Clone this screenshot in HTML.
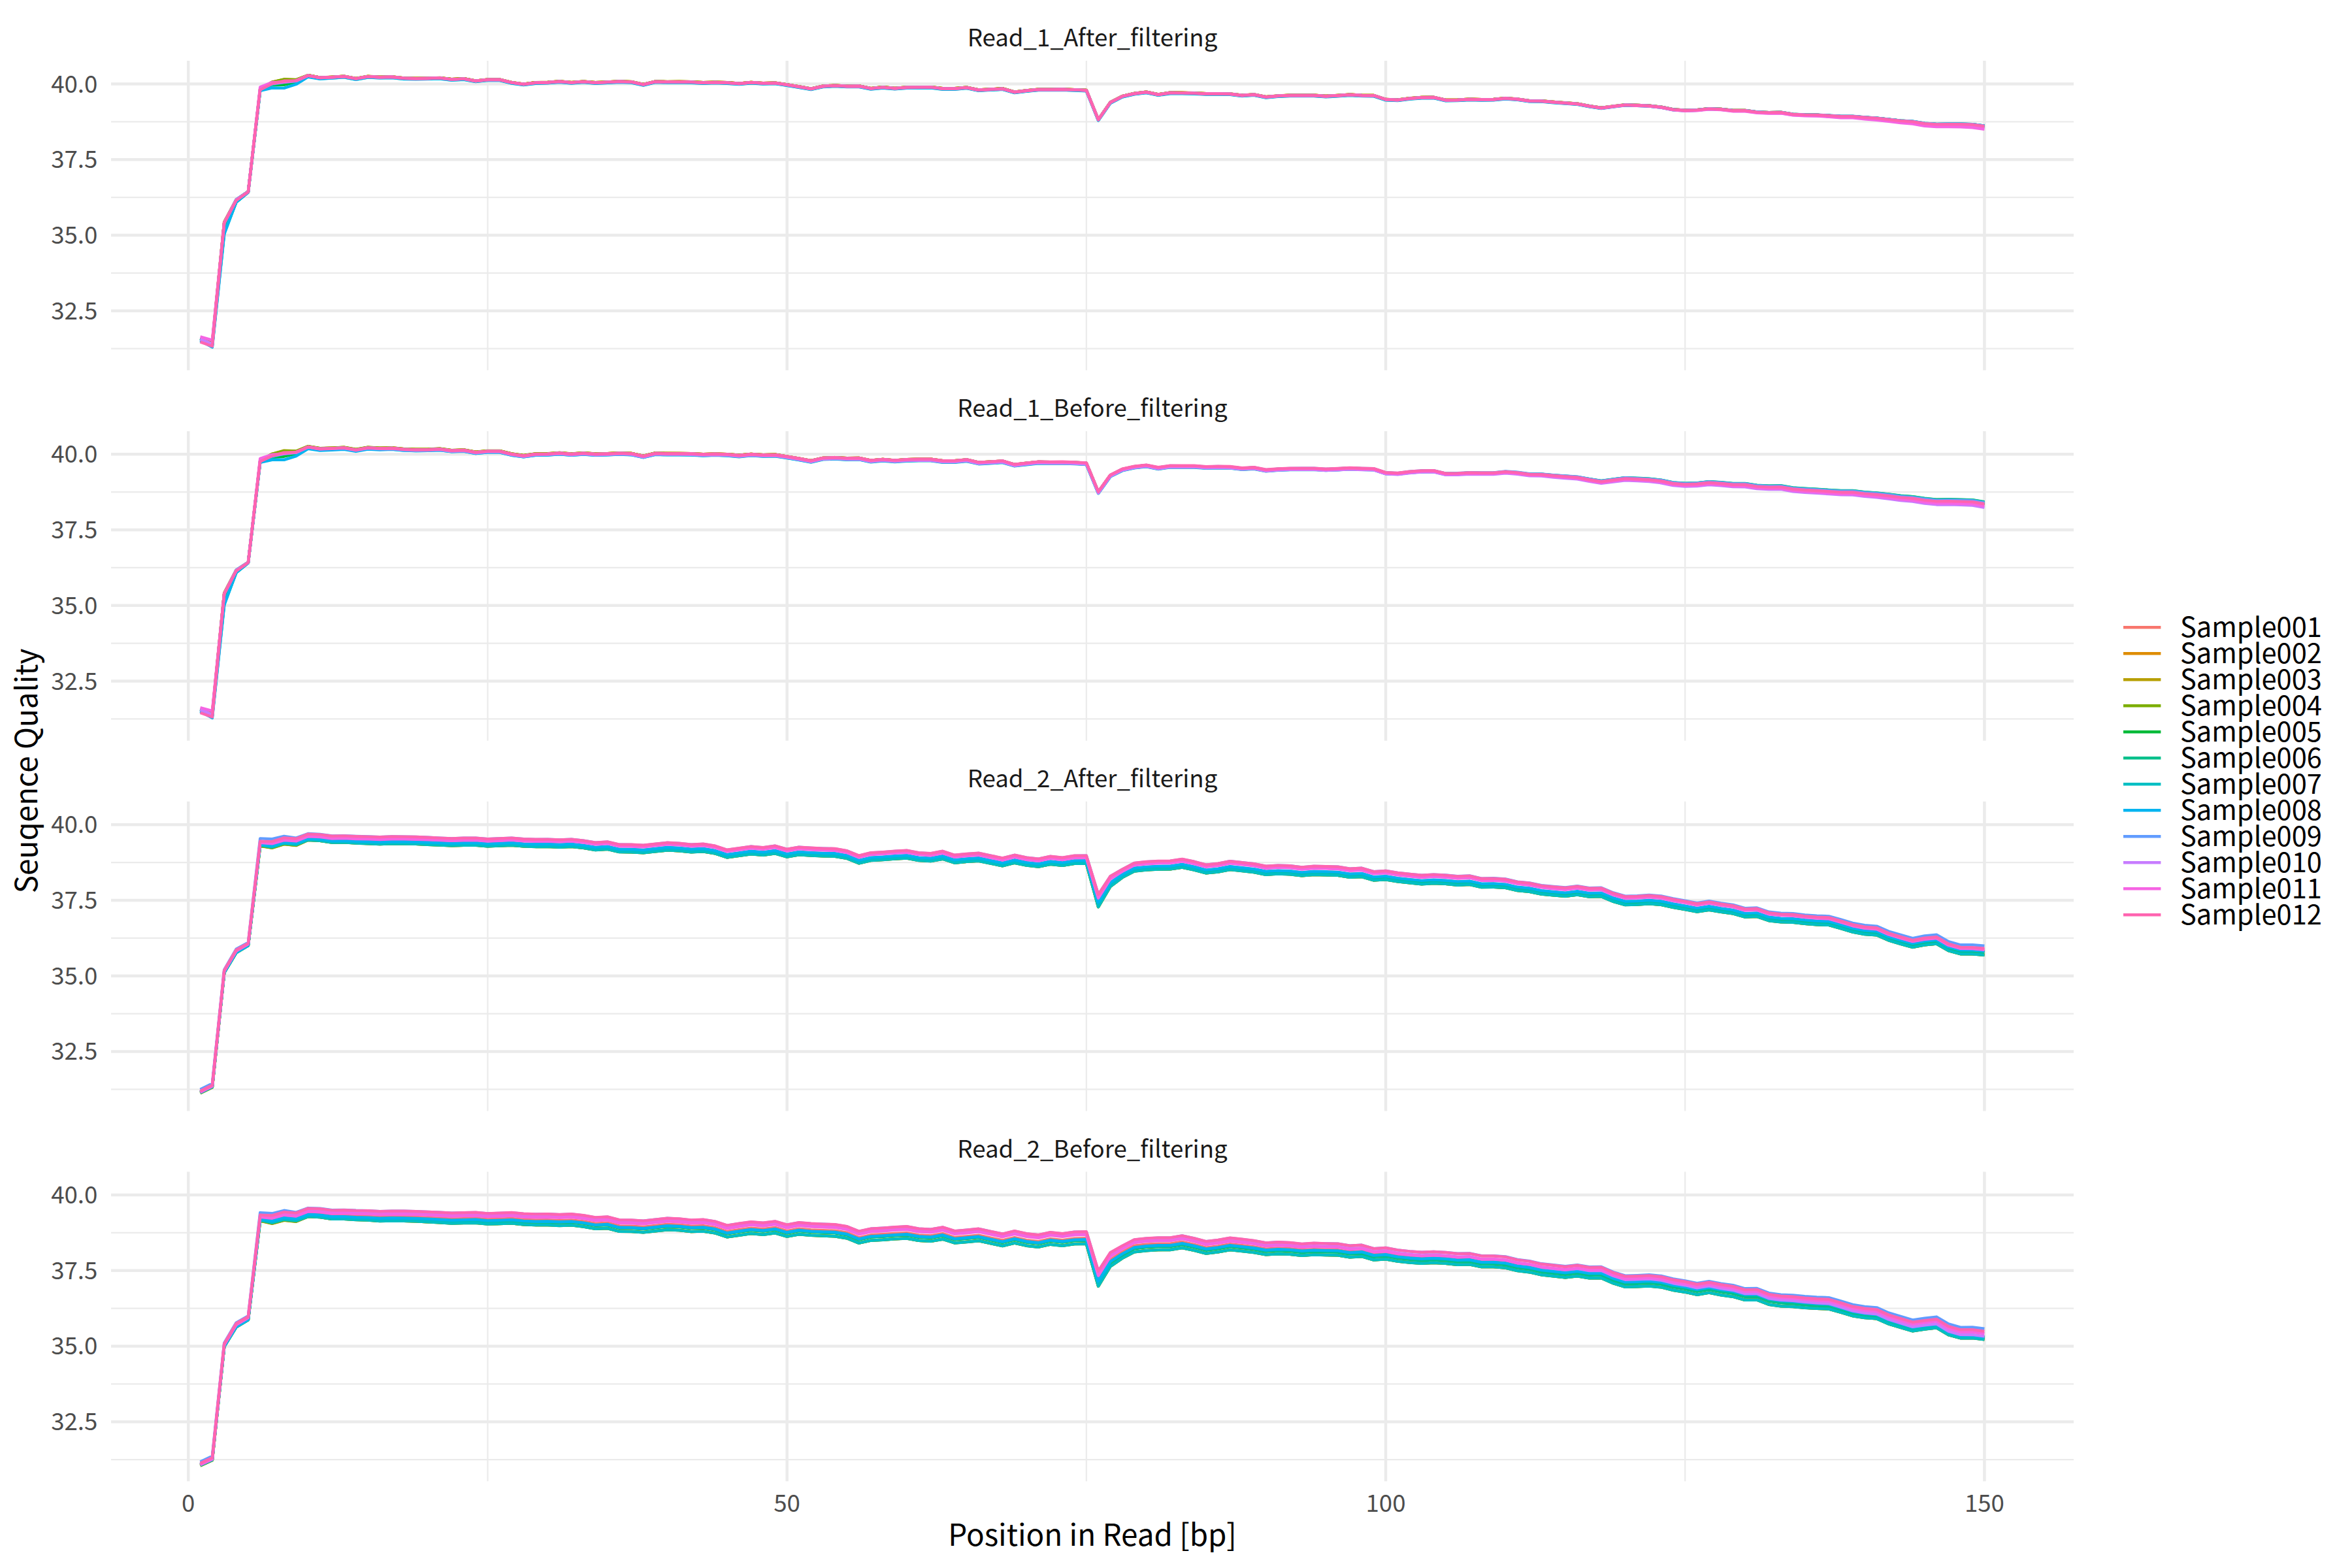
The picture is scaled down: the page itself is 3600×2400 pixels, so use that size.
<!DOCTYPE html>
<html lang="en"><head><meta charset="utf-8"><title>Sequence Quality per Position</title>
<style>html,body{margin:0;padding:0;background:#fff;overflow:hidden;width:3600px;height:2400px}svg{display:block}text{font-family:'Noto Sans CJK SC','Noto Sans CJK JP','Liberation Sans',sans-serif}.at{font-size:36.67px;fill:#4D4D4D}.st{font-size:36.67px;fill:#1A1A1A}.tt{font-size:45.83px;fill:#000}.lt{font-size:41.67px;fill:#000}.gM{stroke:#EBEBEB;stroke-width:4.45;fill:none}.gm{stroke:#EBEBEB;stroke-width:2.225;fill:none}.ln{fill:none;stroke-width:4.45;stroke-linejoin:round;stroke-linecap:butt}</style></head><body>
<svg width="3600" height="2400" viewBox="0 0 3600 2400">
<rect width="3600" height="2400" fill="#fff"/>
<g>
<path class="gm" d="M170 533.62H3174M170 417.88H3174M170 302.12H3174M170 186.38H3174M746.42 93.10V566.80M1662.82 93.10V566.80M2579.22 93.10V566.80"/>
<path class="gM" d="M170 475.75H3174M170 360.00H3174M170 244.25H3174M170 128.50H3174M288.22 93.10V566.80M1204.62 93.10V566.80M2121.02 93.10V566.80M3037.42 93.10V566.80"/>
<polyline class="ln" stroke="#F8766D" points="306.5,518.8 324.9,524.4 343.2,340.5 361.5,306.2 379.9,293.7 398.2,136 416.5,125.7 434.8,121.9 453.2,122.5 471.5,115.3 489.8,118.7 508.2,117.9 526.5,116.7 544.8,120.1 563.1,116.9 581.5,117.9 599.8,117.5 618.1,119.5 636.5,119.9 654.8,119.7 673.1,119.1 691.4,121.3 709.8,120.3 728.1,123.7 746.4,121.7 764.7,121.7 783.1,126.1 801.4,128.7 819.7,126.3 838.1,125.9 856.4,124.5 874.7,126.1 893,124.7 911.4,126.3 929.7,125.5 948,124.5 966.4,125.1 984.7,129.1 1003,124.7 1021.3,125.1 1039.7,124.9 1058,125.3 1076.3,126.3 1094.7,125.7 1113,126.3 1131.3,127.7 1149.6,125.9 1168,127.1 1186.3,126.7 1204.6,129.5 1222.9,132.5 1241.3,135.7 1259.6,131.7 1277.9,130.7 1296.3,131.7 1314.6,131.5 1332.9,135.1 1351.2,133.3 1369.6,134.9 1387.9,133.5 1406.2,133.3 1424.6,133.1 1442.9,135.3 1461.2,135.3 1479.5,133.7 1497.9,137.5 1516.2,136.5 1534.5,135.5 1552.9,140.7 1571.2,138.5 1589.5,136.7 1607.8,136.7 1626.2,136.5 1644.5,137.1 1662.8,137.9 1681.1,183 1699.5,156.6 1717.8,147.2 1736.1,143 1754.5,140.7 1772.8,144.5 1791.1,141.8 1809.4,141.9 1827.8,142.4 1846.1,143.3 1864.4,143.2 1882.8,143.6 1901.1,145.8 1919.4,144.6 1937.7,148.2 1956.1,146.6 1974.4,145.8 1992.7,145.8 2011.1,145.8 2029.4,147 2047.7,146 2066,144.8 2084.4,145.8 2102.7,146 2121,152 2139.3,152.8 2157.7,150.4 2176,149 2194.3,148.8 2212.7,153 2231,152.8 2249.3,151.8 2267.6,152.2 2286,152 2304.3,150.2 2322.6,151.6 2341,154.2 2359.3,154.4 2377.6,156 2395.9,157.4 2414.3,158.8 2432.6,162.2 2450.9,165 2469.3,162.6 2487.6,160.4 2505.9,161 2524.2,161.8 2542.6,163.8 2560.9,167.4 2579.2,168.8 2597.5,168.2 2615.9,166.2 2634.2,167 2652.5,169 2670.9,169 2689.2,171.4 2707.5,172.2 2725.8,171.9 2744.2,174.9 2762.5,175.7 2780.8,175.9 2799.2,176.9 2817.5,178.1 2835.8,178.1 2854.1,179.7 2872.5,180.9 2890.8,182.9 2909.1,184.9 2927.5,186.1 2945.8,189.1 2964.1,190.3 2982.4,190.1 3000.8,190.1 3019.1,190.8 3037.4,193.2"/>
<polyline class="ln" stroke="#DE8C00" points="306.5,519.7 324.9,523.1 343.2,340.5 361.5,306.2 379.9,293.7 398.2,137.4 416.5,128 434.8,127.5 453.2,124.8 471.5,115.3 489.8,118.7 508.2,117.9 526.5,116.7 544.8,120.1 563.1,116.9 581.5,117.9 599.8,117.5 618.1,119.5 636.5,119.9 654.8,119.7 673.1,119.1 691.4,121.3 709.8,120.3 728.1,123.7 746.4,121.7 764.7,121.7 783.1,126.1 801.4,128.7 819.7,126.3 838.1,125.9 856.4,124.5 874.7,126.1 893,124.7 911.4,126.3 929.7,125.5 948,124.5 966.4,125.1 984.7,129.1 1003,124.7 1021.3,125.1 1039.7,124.9 1058,125.3 1076.3,126.3 1094.7,125.7 1113,126.3 1131.3,127.7 1149.6,125.9 1168,127.1 1186.3,126.7 1204.6,129.5 1222.9,132.5 1241.3,135.7 1259.6,131.7 1277.9,130.7 1296.3,131.7 1314.6,131.5 1332.9,135.1 1351.2,133.3 1369.6,134.9 1387.9,133.5 1406.2,133.3 1424.6,133.1 1442.9,135.3 1461.2,135.3 1479.5,133.7 1497.9,137.5 1516.2,136.5 1534.5,135.5 1552.9,140.7 1571.2,138.5 1589.5,136.7 1607.8,136.7 1626.2,136.5 1644.5,137.1 1662.8,137.9 1681.1,183 1699.5,156.6 1717.8,147.2 1736.1,143 1754.5,140.7 1772.8,144.5 1791.1,141.8 1809.4,141.9 1827.8,142.4 1846.1,143.3 1864.4,143.2 1882.8,143.6 1901.1,145.8 1919.4,144.6 1937.7,148.2 1956.1,146.6 1974.4,145.8 1992.7,145.8 2011.1,145.8 2029.4,147 2047.7,146 2066,144.8 2084.4,145.8 2102.7,146 2121,152 2139.3,152.8 2157.7,150.4 2176,149 2194.3,148.8 2212.7,153 2231,152.8 2249.3,151.8 2267.6,152.2 2286,152 2304.3,150.2 2322.6,151.6 2341,154.2 2359.3,154.4 2377.6,156 2395.9,157.4 2414.3,158.8 2432.6,162.2 2450.9,165 2469.3,162.6 2487.6,160.4 2505.9,161 2524.2,161.8 2542.6,163.8 2560.9,167.4 2579.2,168.8 2597.5,168.2 2615.9,166.2 2634.2,167 2652.5,169 2670.9,169 2689.2,171.4 2707.5,172.2 2725.8,171.9 2744.2,174.9 2762.5,175.7 2780.8,175.9 2799.2,176.9 2817.5,178.1 2835.8,178.1 2854.1,179.7 2872.5,180.9 2890.8,182.9 2909.1,184.9 2927.5,186.1 2945.8,189.1 2964.1,190.3 2982.4,190.1 3000.8,190.1 3019.1,190.8 3037.4,193.2"/>
<polyline class="ln" stroke="#B79F00" points="306.5,517.8 324.9,525.4 343.2,340 361.5,305.8 379.9,293.2 398.2,136 416.5,125.7 434.8,121.3 453.2,122 471.5,115.2 489.8,118.6 508.2,117.8 526.5,116.6 544.8,120 563.1,116.8 581.5,117.8 599.8,117.4 618.1,119.4 636.5,119.8 654.8,119.6 673.1,119 691.4,121.2 709.8,120.2 728.1,123.6 746.4,121.6 764.7,121.6 783.1,126 801.4,128.6 819.7,126.2 838.1,125.8 856.4,124.4 874.7,126 893,124.6 911.4,126.2 929.7,125.4 948,124.4 966.4,125 984.7,129 1003,124.6 1021.3,125 1039.7,124.8 1058,125.2 1076.3,126.2 1094.7,125.6 1113,126.2 1131.3,127.6 1149.6,125.9 1168,127.1 1186.3,126.7 1204.6,129.5 1222.9,132.5 1241.3,135.6 1259.6,131.7 1277.9,130.7 1296.3,131.7 1314.6,131.5 1332.9,135.1 1351.2,133.3 1369.6,134.9 1387.9,133.5 1406.2,133.3 1424.6,133.1 1442.9,135.3 1461.2,135.3 1479.5,133.7 1497.9,137.5 1516.2,136.5 1534.5,135.5 1552.9,140.7 1571.2,138.5 1589.5,136.7 1607.8,136.7 1626.2,136.5 1644.5,137.1 1662.8,137.9 1681.1,182.9 1699.5,156.5 1717.8,147.1 1736.1,142.9 1754.5,140.6 1772.8,144.4 1791.1,141.7 1809.4,141.8 1827.8,142.3 1846.1,143.2 1864.4,143.1 1882.8,143.5 1901.1,145.7 1919.4,144.5 1937.7,148.1 1956.1,146.5 1974.4,145.7 1992.7,145.7 2011.1,145.7 2029.4,146.9 2047.7,145.9 2066,144.7 2084.4,145.7 2102.7,145.9 2121,151.9 2139.3,152.7 2157.7,150.3 2176,148.9 2194.3,148.7 2212.7,152.9 2231,152.7 2249.3,151.7 2267.6,152.1 2286,151.9 2304.3,150.1 2322.6,151.5 2341,154.1 2359.3,154.3 2377.6,155.9 2395.9,157.3 2414.3,158.7 2432.6,162.1 2450.9,164.9 2469.3,162.5 2487.6,160.3 2505.9,160.9 2524.2,161.8 2542.6,163.8 2560.9,167.4 2579.2,168.8 2597.5,168.2 2615.9,166.2 2634.2,167 2652.5,169 2670.9,169 2689.2,171.4 2707.5,172.2 2725.8,171.8 2744.2,174.8 2762.5,175.6 2780.8,175.9 2799.2,176.9 2817.5,178.1 2835.8,178.1 2854.1,179.7 2872.5,180.9 2890.8,182.9 2909.1,184.9 2927.5,186.1 2945.8,189.1 2964.1,190.3 2982.4,190.1 3000.8,190.1 3019.1,190.8 3037.4,193.2"/>
<polyline class="ln" stroke="#7CAE00" points="306.5,520.6 324.9,526.3 343.2,340 361.5,305.8 379.9,293.2 398.2,136.5 416.5,125.9 434.8,121.7 453.2,122.2 471.5,115.3 489.8,118.7 508.2,117.9 526.5,116.7 544.8,120.1 563.1,116.9 581.5,117.9 599.8,117.5 618.1,119.5 636.5,119.9 654.8,119.7 673.1,119.1 691.4,121.3 709.8,120.3 728.1,123.7 746.4,121.7 764.7,121.7 783.1,126.1 801.4,128.7 819.7,126.3 838.1,125.9 856.4,124.5 874.7,126.1 893,124.7 911.4,126.3 929.7,125.5 948,124.5 966.4,125.1 984.7,129.1 1003,124.7 1021.3,125.1 1039.7,124.9 1058,125.3 1076.3,126.3 1094.7,125.7 1113,126.3 1131.3,127.7 1149.6,125.9 1168,127.1 1186.3,126.7 1204.6,129.5 1222.9,132.5 1241.3,135.7 1259.6,131.7 1277.9,130.7 1296.3,131.7 1314.6,131.5 1332.9,135.1 1351.2,133.3 1369.6,134.9 1387.9,133.5 1406.2,133.3 1424.6,133.1 1442.9,135.3 1461.2,135.3 1479.5,133.7 1497.9,137.5 1516.2,136.5 1534.5,135.5 1552.9,140.7 1571.2,138.5 1589.5,136.7 1607.8,136.7 1626.2,136.5 1644.5,137.1 1662.8,137.9 1681.1,183 1699.5,156.6 1717.8,147.2 1736.1,143 1754.5,140.7 1772.8,144.5 1791.1,141.8 1809.4,141.9 1827.8,142.4 1846.1,143.3 1864.4,143.2 1882.8,143.6 1901.1,145.8 1919.4,144.6 1937.7,148.2 1956.1,146.6 1974.4,145.8 1992.7,145.8 2011.1,145.8 2029.4,147 2047.7,146 2066,144.8 2084.4,145.8 2102.7,146 2121,152 2139.3,152.8 2157.7,150.4 2176,149 2194.3,148.8 2212.7,153 2231,152.8 2249.3,151.8 2267.6,152.2 2286,152 2304.3,150.2 2322.6,151.6 2341,154.2 2359.3,154.4 2377.6,156 2395.9,157.4 2414.3,158.8 2432.6,162.2 2450.9,165 2469.3,162.6 2487.6,160.4 2505.9,161 2524.2,161.8 2542.6,163.8 2560.9,167.4 2579.2,168.8 2597.5,168.2 2615.9,166.2 2634.2,167 2652.5,169 2670.9,169 2689.2,171.4 2707.5,172.2 2725.8,171.9 2744.2,174.9 2762.5,175.7 2780.8,175.9 2799.2,176.9 2817.5,178.1 2835.8,178.1 2854.1,179.7 2872.5,180.9 2890.8,182.9 2909.1,184.9 2927.5,186.1 2945.8,189.1 2964.1,190.3 2982.4,190.1 3000.8,190.1 3019.1,190.8 3037.4,193.2"/>
<polyline class="ln" stroke="#00BA38" points="306.5,521.1 324.9,527.7 343.2,343.7 361.5,307.2 379.9,294.2 398.2,137.9 416.5,130.3 434.8,129.8 453.2,125.7 471.5,116 489.8,119.4 508.2,118.6 526.5,117.4 544.8,120.8 563.1,117.6 581.5,118.6 599.8,118.2 618.1,120.2 636.5,120.6 654.8,120.4 673.1,119.8 691.4,122 709.8,121 728.1,124.4 746.4,122.4 764.7,122.4 783.1,126.8 801.4,129.4 819.7,127 838.1,126.6 856.4,125.2 874.7,126.8 893,125.4 911.4,127 929.7,126.2 948,125.2 966.4,125.8 984.7,129.8 1003,125.4 1021.3,125.8 1039.7,125.6 1058,126 1076.3,127 1094.7,126.4 1113,127 1131.3,128.4 1149.6,126.6 1168,127.8 1186.3,127.4 1204.6,130.2 1222.9,133.2 1241.3,136.4 1259.6,132.4 1277.9,131.4 1296.3,132.4 1314.6,132.2 1332.9,135.8 1351.2,134 1369.6,135.6 1387.9,134.2 1406.2,134 1424.6,133.8 1442.9,136 1461.2,136 1479.5,134.4 1497.9,138.2 1516.2,137.2 1534.5,136.2 1552.9,141.4 1571.2,139.2 1589.5,137.4 1607.8,137.4 1626.2,137.2 1644.5,137.8 1662.8,138.6 1681.1,183.7 1699.5,157.3 1717.8,147.9 1736.1,143.7 1754.5,141.4 1772.8,145.2 1791.1,142.5 1809.4,142.6 1827.8,143 1846.1,143.9 1864.4,143.8 1882.8,144.2 1901.1,146.4 1919.4,145.2 1937.7,148.8 1956.1,147.2 1974.4,146.4 1992.7,146.4 2011.1,146.4 2029.4,147.6 2047.7,146.6 2066,145.4 2084.4,146.4 2102.7,146.6 2121,152.6 2139.3,153.4 2157.7,151 2176,149.6 2194.3,149.4 2212.7,153.6 2231,153.4 2249.3,152.4 2267.6,152.8 2286,152.6 2304.3,150.8 2322.6,152.2 2341,154.8 2359.3,155 2377.6,156.6 2395.9,157.9 2414.3,159.3 2432.6,162.7 2450.9,165.5 2469.3,163 2487.6,160.8 2505.9,161.4 2524.2,162.2 2542.6,164.2 2560.9,167.7 2579.2,169.1 2597.5,168.5 2615.9,166.5 2634.2,167.3 2652.5,169.2 2670.9,169.2 2689.2,171.6 2707.5,172.4 2725.8,171.9 2744.2,174.9 2762.5,175.7 2780.8,175.9 2799.2,176.9 2817.5,178 2835.8,178 2854.1,179.6 2872.5,180.8 2890.8,182.8 2909.1,184.7 2927.5,185.9 2945.8,188.9 2964.1,190.1 2982.4,189.9 3000.8,189.8 3019.1,190.4 3037.4,192.8"/>
<polyline class="ln" stroke="#00C08B" points="306.5,517.8 324.9,528.6 343.2,356.7 361.5,309.5 379.9,294.2 398.2,138.3 416.5,128.9 434.8,125.2 453.2,124.3 471.5,116.3 489.8,119.7 508.2,118.8 526.5,117.6 544.8,121 563.1,117.8 581.5,118.8 599.8,118.4 618.1,120.4 636.5,120.7 654.8,120.5 673.1,119.9 691.4,122.1 709.8,121.1 728.1,124.5 746.4,122.5 764.7,122.5 783.1,126.9 801.4,129.5 819.7,127.1 838.1,126.7 856.4,125.3 874.7,126.9 893,125.5 911.4,127.1 929.7,126.3 948,125.3 966.4,125.9 984.7,129.9 1003,125.5 1021.3,125.9 1039.7,125.7 1058,126.1 1076.3,127.1 1094.7,126.5 1113,127.1 1131.3,128.5 1149.6,126.7 1168,127.9 1186.3,127.5 1204.6,130.3 1222.9,133.3 1241.3,136.5 1259.6,132.5 1277.9,131.5 1296.3,132.5 1314.6,132.3 1332.9,135.9 1351.2,134.1 1369.6,135.7 1387.9,134.3 1406.2,134.1 1424.6,133.9 1442.9,136.1 1461.2,136.1 1479.5,134.5 1497.9,138.3 1516.2,137.3 1534.5,136.3 1552.9,141.5 1571.2,139.3 1589.5,137.5 1607.8,137.5 1626.2,137.3 1644.5,137.9 1662.8,138.7 1681.1,183.8 1699.5,157.4 1717.8,148 1736.1,143.8 1754.5,141.5 1772.8,145.3 1791.1,142.6 1809.4,142.7 1827.8,143.1 1846.1,144 1864.4,143.9 1882.8,144.3 1901.1,146.5 1919.4,145.3 1937.7,148.9 1956.1,147.3 1974.4,146.5 1992.7,146.5 2011.1,146.5 2029.4,147.7 2047.7,146.7 2066,145.5 2084.4,146.5 2102.7,146.7 2121,152.7 2139.3,153.5 2157.7,151.1 2176,149.7 2194.3,149.5 2212.7,153.7 2231,153.5 2249.3,152.5 2267.6,152.9 2286,152.7 2304.3,150.9 2322.6,152.3 2341,154.9 2359.3,155 2377.6,156.6 2395.9,158 2414.3,159.4 2432.6,162.7 2450.9,165.5 2469.3,163.1 2487.6,160.8 2505.9,161.4 2524.2,162.2 2542.6,164.2 2560.9,167.7 2579.2,169.1 2597.5,168.5 2615.9,166.4 2634.2,167.2 2652.5,169.2 2670.9,169.2 2689.2,171.5 2707.5,172.3 2725.8,171.9 2744.2,174.8 2762.5,175.6 2780.8,175.8 2799.2,176.8 2817.5,177.9 2835.8,177.9 2854.1,179.5 2872.5,180.7 2890.8,182.6 2909.1,184.6 2927.5,185.8 2945.8,188.7 2964.1,189.9 2982.4,189.7 3000.8,189.7 3019.1,190.2 3037.4,192.6"/>
<polyline class="ln" stroke="#00BFC4" points="306.5,518.8 324.9,529.1 343.2,355.8 361.5,309.5 379.9,294.2 398.2,138.8 416.5,129.4 434.8,125.7 453.2,124.8 471.5,117 489.8,120.3 508.2,119.5 526.5,118.3 544.8,121.7 563.1,118.5 581.5,119.4 599.8,119 618.1,121 636.5,121.4 654.8,121.1 673.1,120.5 691.4,122.7 709.8,121.7 728.1,125.1 746.4,123.1 764.7,123.1 783.1,127.5 801.4,130.1 819.7,127.7 838.1,127.3 856.4,125.9 874.7,127.5 893,126.1 911.4,127.7 929.7,126.9 948,125.9 966.4,126.5 984.7,130.5 1003,126.1 1021.3,126.5 1039.7,126.3 1058,126.7 1076.3,127.7 1094.7,127.1 1113,127.7 1131.3,129.1 1149.6,127.3 1168,128.5 1186.3,128.1 1204.6,130.9 1222.9,133.9 1241.3,137.1 1259.6,133.1 1277.9,132.1 1296.3,133.1 1314.6,132.9 1332.9,136.5 1351.2,134.7 1369.6,136.3 1387.9,134.9 1406.2,134.7 1424.6,134.5 1442.9,136.7 1461.2,136.7 1479.5,135.1 1497.9,138.9 1516.2,137.9 1534.5,136.9 1552.9,142.1 1571.2,139.9 1589.5,138.1 1607.8,138.1 1626.2,137.9 1644.5,138.5 1662.8,139.3 1681.1,184.4 1699.5,158 1717.8,148.6 1736.1,144.4 1754.5,142.1 1772.8,145.9 1791.1,143.2 1809.4,143.3 1827.8,143.7 1846.1,144.6 1864.4,144.5 1882.8,144.9 1901.1,147.1 1919.4,145.9 1937.7,149.5 1956.1,147.9 1974.4,147.1 1992.7,147.1 2011.1,147.1 2029.4,148.3 2047.7,147.3 2066,146.1 2084.4,147.1 2102.7,147.3 2121,153.3 2139.3,154.1 2157.7,151.7 2176,150.3 2194.3,150.1 2212.7,154.3 2231,154.1 2249.3,153.1 2267.6,153.5 2286,153.3 2304.3,151.5 2322.6,152.9 2341,155.4 2359.3,155.6 2377.6,157.2 2395.9,158.5 2414.3,159.9 2432.6,163.2 2450.9,166 2469.3,163.6 2487.6,161.3 2505.9,161.9 2524.2,162.6 2542.6,164.6 2560.9,168.2 2579.2,169.5 2597.5,168.9 2615.9,166.8 2634.2,167.6 2652.5,169.5 2670.9,169.5 2689.2,171.9 2707.5,172.6 2725.8,172.2 2744.2,175.1 2762.5,175.9 2780.8,176.1 2799.2,177 2817.5,178.2 2835.8,178.2 2854.1,179.7 2872.5,180.9 2890.8,182.8 2909.1,184.8 2927.5,185.9 2945.8,188.9 2964.1,190.1 2982.4,189.8 3000.8,189.8 3019.1,190.3 3037.4,192.7"/>
<polyline class="ln" stroke="#00B4F0" points="306.5,521.5 324.9,531.4 343.2,358.5 361.5,309.2 379.9,294.2 398.2,138.8 416.5,134.5 434.8,134.9 453.2,129 471.5,117.7 489.8,120.8 508.2,119.6 526.5,118.1 544.8,121.5 563.1,118.3 581.5,119.2 599.8,118.8 618.1,120.8 636.5,121.1 654.8,120.9 673.1,120.3 691.4,122.5 709.8,121.5 728.1,124.9 746.4,122.9 764.7,122.9 783.1,127.3 801.4,129.9 819.7,127.5 838.1,127.1 856.4,125.7 874.7,127.3 893,125.9 911.4,127.5 929.7,126.7 948,125.7 966.4,126.3 984.7,130.3 1003,125.9 1021.3,126.3 1039.7,126.1 1058,126.5 1076.3,127.5 1094.7,126.9 1113,127.5 1131.3,128.9 1149.6,127.1 1168,128.3 1186.3,127.9 1204.6,130.7 1222.9,133.7 1241.3,136.9 1259.6,132.9 1277.9,131.9 1296.3,132.9 1314.6,132.7 1332.9,136.3 1351.2,134.5 1369.6,136.1 1387.9,134.7 1406.2,134.5 1424.6,134.3 1442.9,136.5 1461.2,136.5 1479.5,134.9 1497.9,138.6 1516.2,137.6 1534.5,136.6 1552.9,141.8 1571.2,139.6 1589.5,137.8 1607.8,137.8 1626.2,137.6 1644.5,138.2 1662.8,139 1681.1,184.1 1699.5,157.7 1717.8,148.3 1736.1,144.1 1754.5,141.8 1772.8,145.6 1791.1,142.9 1809.4,143 1827.8,143.4 1846.1,144.3 1864.4,144.2 1882.8,144.6 1901.1,146.8 1919.4,145.6 1937.7,149.2 1956.1,147.6 1974.4,146.8 1992.7,146.8 2011.1,146.8 2029.4,148 2047.7,147 2066,145.8 2084.4,146.8 2102.7,147 2121,153 2139.3,153.8 2157.7,151.4 2176,150 2194.3,149.8 2212.7,154 2231,153.8 2249.3,152.8 2267.6,153.2 2286,153 2304.3,151.2 2322.6,152.6 2341,155.2 2359.3,155.3 2377.6,156.9 2395.9,158.3 2414.3,159.6 2432.6,163 2450.9,165.8 2469.3,163.4 2487.6,161.1 2505.9,161.7 2524.2,162.5 2542.6,164.5 2560.9,168 2579.2,169.4 2597.5,168.8 2615.9,166.7 2634.2,167.5 2652.5,169.5 2670.9,169.5 2689.2,171.8 2707.5,172.6 2725.8,172.2 2744.2,175.2 2762.5,175.9 2780.8,176.1 2799.2,177.1 2817.5,178.3 2835.8,178.2 2854.1,179.8 2872.5,181 2890.8,182.9 2909.1,184.9 2927.5,186.1 2945.8,189.1 2964.1,190.2 2982.4,190 3000.8,190 3019.1,190.6 3037.4,192.9"/>
<polyline class="ln" stroke="#619CFF" points="306.5,519.7 324.9,527.2 343.2,341.4 361.5,305.3 379.9,293.2 398.2,136.5 416.5,128 434.8,124.7 453.2,123.9 471.5,115.6 489.8,119 508.2,118.2 526.5,117 544.8,120.4 563.1,117.2 581.5,118.2 599.8,117.8 618.1,119.8 636.5,120.2 654.8,120 673.1,119.4 691.4,121.6 709.8,120.6 728.1,124 746.4,122 764.7,122 783.1,126.4 801.4,129 819.7,126.6 838.1,126.2 856.4,124.8 874.7,126.4 893,125 911.4,126.6 929.7,125.8 948,124.8 966.4,125.4 984.7,129.4 1003,125 1021.3,125.4 1039.7,125.2 1058,125.6 1076.3,126.6 1094.7,126 1113,126.6 1131.3,128 1149.6,126.2 1168,127.4 1186.3,127 1204.6,129.8 1222.9,132.8 1241.3,136 1259.6,132 1277.9,131 1296.3,132 1314.6,131.8 1332.9,135.4 1351.2,133.6 1369.6,135.2 1387.9,133.8 1406.2,133.6 1424.6,133.4 1442.9,135.6 1461.2,135.6 1479.5,134 1497.9,137.8 1516.2,136.8 1534.5,135.8 1552.9,141 1571.2,138.8 1589.5,137 1607.8,137 1626.2,136.8 1644.5,137.4 1662.8,138.2 1681.1,183.2 1699.5,156.8 1717.8,147.4 1736.1,143.2 1754.5,140.9 1772.8,144.7 1791.1,142 1809.4,142.1 1827.8,142.6 1846.1,143.5 1864.4,143.4 1882.8,143.8 1901.1,146 1919.4,144.8 1937.7,148.4 1956.1,146.8 1974.4,146 1992.7,146 2011.1,146 2029.4,147.2 2047.7,146.2 2066,145 2084.4,146 2102.7,146.2 2121,152.2 2139.3,153 2157.7,150.6 2176,149.2 2194.3,149 2212.7,153.2 2231,153 2249.3,152 2267.6,152.4 2286,152.2 2304.3,150.4 2322.6,151.8 2341,154.3 2359.3,154.5 2377.6,156.1 2395.9,157.5 2414.3,158.9 2432.6,162.3 2450.9,165.1 2469.3,162.7 2487.6,160.5 2505.9,161 2524.2,161.8 2542.6,163.8 2560.9,167.4 2579.2,168.8 2597.5,168.2 2615.9,166.2 2634.2,167 2652.5,168.9 2670.9,168.9 2689.2,171.3 2707.5,172.1 2725.8,171.7 2744.2,174.7 2762.5,175.5 2780.8,175.7 2799.2,176.7 2817.5,177.8 2835.8,177.8 2854.1,179.4 2872.5,180.6 2890.8,182.6 2909.1,184.6 2927.5,185.8 2945.8,188.8 2964.1,189.9 2982.4,189.7 3000.8,189.7 3019.1,190.3 3037.4,192.7"/>
<polyline class="ln" stroke="#C77CFF" points="306.5,519.2 324.9,526.3 343.2,341.4 361.5,306.7 379.9,293.7 398.2,135.5 416.5,128 434.8,125.7 453.2,123.9 471.5,115.6 489.8,119 508.2,118.2 526.5,117 544.8,120.4 563.1,117.2 581.5,118.2 599.8,117.8 618.1,119.8 636.5,120.2 654.8,120 673.1,119.4 691.4,121.6 709.8,120.6 728.1,124 746.4,122 764.7,122 783.1,126.4 801.4,129 819.7,126.6 838.1,126.2 856.4,124.8 874.7,126.4 893,125 911.4,126.6 929.7,125.8 948,124.8 966.4,125.4 984.7,129.4 1003,125 1021.3,125.4 1039.7,125.2 1058,125.6 1076.3,126.6 1094.7,126 1113,126.6 1131.3,128 1149.6,126.2 1168,127.4 1186.3,127 1204.6,129.8 1222.9,132.8 1241.3,136 1259.6,132 1277.9,131 1296.3,132 1314.6,131.8 1332.9,135.4 1351.2,133.6 1369.6,135.2 1387.9,133.8 1406.2,133.6 1424.6,133.4 1442.9,135.6 1461.2,135.6 1479.5,134 1497.9,137.8 1516.2,136.8 1534.5,135.8 1552.9,141 1571.2,138.8 1589.5,137 1607.8,137 1626.2,136.8 1644.5,137.4 1662.8,138.2 1681.1,183.2 1699.5,156.8 1717.8,147.4 1736.1,143.2 1754.5,140.9 1772.8,144.7 1791.1,142 1809.4,142.1 1827.8,142.6 1846.1,143.5 1864.4,143.4 1882.8,143.8 1901.1,146 1919.4,144.8 1937.7,148.4 1956.1,146.8 1974.4,146 1992.7,146 2011.1,146 2029.4,147.2 2047.7,146.2 2066,145 2084.4,146 2102.7,146.2 2121,152.2 2139.3,153 2157.7,150.6 2176,149.2 2194.3,149 2212.7,153.2 2231,153 2249.3,152 2267.6,152.4 2286,152.2 2304.3,150.4 2322.6,151.8 2341,154.4 2359.3,154.6 2377.6,156.2 2395.9,157.6 2414.3,159 2432.6,162.4 2450.9,165.2 2469.3,162.8 2487.6,160.6 2505.9,161.2 2524.2,162.1 2542.6,164.2 2560.9,167.9 2579.2,169.3 2597.5,168.8 2615.9,166.9 2634.2,167.8 2652.5,169.9 2670.9,169.9 2689.2,172.4 2707.5,173.3 2725.8,173 2744.2,176 2762.5,176.9 2780.8,177.2 2799.2,178.3 2817.5,179.6 2835.8,179.6 2854.1,181.3 2872.5,182.6 2890.8,184.7 2909.1,186.7 2927.5,188 2945.8,191.1 2964.1,192.4 2982.4,192.2 3000.8,192.3 3019.1,193 3037.4,195.5"/>
<polyline class="ln" stroke="#F564E3" points="306.5,515.5 324.9,520.7 343.2,340.5 361.5,306.2 379.9,293.7 398.2,133.2 416.5,126.1 434.8,125.2 453.2,123.4 471.5,115.6 489.8,119 508.2,118.2 526.5,117 544.8,120.4 563.1,117.2 581.5,118.2 599.8,117.8 618.1,119.8 636.5,120.2 654.8,120 673.1,119.4 691.4,121.6 709.8,120.6 728.1,124 746.4,122 764.7,122 783.1,126.4 801.4,129 819.7,126.7 838.1,126.3 856.4,124.9 874.7,126.5 893,125.1 911.4,126.7 929.7,125.9 948,124.9 966.4,125.5 984.7,129.5 1003,125.1 1021.3,125.5 1039.7,125.3 1058,125.7 1076.3,126.7 1094.7,126.1 1113,126.7 1131.3,128.1 1149.6,126.3 1168,127.5 1186.3,127.1 1204.6,129.9 1222.9,132.9 1241.3,136.1 1259.6,132.2 1277.9,131.2 1296.3,132.2 1314.6,132 1332.9,135.6 1351.2,133.8 1369.6,135.4 1387.9,134 1406.2,133.8 1424.6,133.6 1442.9,135.8 1461.2,135.8 1479.5,134.2 1497.9,138 1516.2,137 1534.5,136 1552.9,141.2 1571.2,139 1589.5,137.2 1607.8,137.2 1626.2,137 1644.5,137.6 1662.8,138.4 1681.1,183.5 1699.5,157.1 1717.8,147.7 1736.1,143.5 1754.5,141.2 1772.8,145 1791.1,142.3 1809.4,142.4 1827.8,142.9 1846.1,143.8 1864.4,143.7 1882.8,144.1 1901.1,146.3 1919.4,145.1 1937.7,148.7 1956.1,147.1 1974.4,146.3 1992.7,146.3 2011.1,146.3 2029.4,147.5 2047.7,146.5 2066,145.3 2084.4,146.3 2102.7,146.5 2121,152.5 2139.3,153.3 2157.7,151 2176,149.6 2194.3,149.4 2212.7,153.6 2231,153.4 2249.3,152.4 2267.6,152.8 2286,152.6 2304.3,150.8 2322.6,152.2 2341,154.8 2359.3,155 2377.6,156.6 2395.9,158 2414.3,159.4 2432.6,162.8 2450.9,165.6 2469.3,163.2 2487.6,161 2505.9,161.7 2524.2,162.6 2542.6,164.6 2560.9,168.3 2579.2,169.7 2597.5,169.2 2615.9,167.3 2634.2,168.1 2652.5,170.2 2670.9,170.2 2689.2,172.7 2707.5,173.6 2725.8,173.2 2744.2,176.3 2762.5,177.2 2780.8,177.6 2799.2,178.8 2817.5,180.2 2835.8,180.4 2854.1,182.2 2872.5,183.7 2890.8,185.9 2909.1,188.1 2927.5,189.5 2945.8,192.7 2964.1,194.1 2982.4,194.1 3000.8,194.4 3019.1,195.2 3037.4,197.8"/>
<polyline class="ln" stroke="#FF64B0" points="306.5,523.4 324.9,530 343.2,341.4 361.5,306.7 379.9,293.7 398.2,137.4 416.5,128 434.8,123.8 453.2,123.4 471.5,115.6 489.8,119 508.2,118.2 526.5,117 544.8,120.4 563.1,117.2 581.5,118.2 599.8,117.8 618.1,119.8 636.5,120.2 654.8,120 673.1,119.4 691.4,121.6 709.8,120.6 728.1,124 746.4,122 764.7,122 783.1,126.4 801.4,129 819.7,126.6 838.1,126.2 856.4,124.8 874.7,126.4 893,125 911.4,126.6 929.7,125.8 948,124.8 966.4,125.4 984.7,129.4 1003,125 1021.3,125.4 1039.7,125.2 1058,125.6 1076.3,126.6 1094.7,126 1113,126.6 1131.3,128 1149.6,126.2 1168,127.4 1186.3,127 1204.6,129.8 1222.9,132.8 1241.3,136 1259.6,132 1277.9,131 1296.3,132 1314.6,131.8 1332.9,135.4 1351.2,133.6 1369.6,135.2 1387.9,133.8 1406.2,133.6 1424.6,133.4 1442.9,135.6 1461.2,135.6 1479.5,134 1497.9,137.8 1516.2,136.8 1534.5,135.8 1552.9,141 1571.2,138.8 1589.5,137 1607.8,137 1626.2,136.8 1644.5,137.4 1662.8,138.2 1681.1,183.2 1699.5,156.8 1717.8,147.4 1736.1,143.2 1754.5,140.9 1772.8,144.7 1791.1,142 1809.4,142.1 1827.8,142.6 1846.1,143.5 1864.4,143.4 1882.8,143.8 1901.1,146 1919.4,144.8 1937.7,148.4 1956.1,146.8 1974.4,146 1992.7,146 2011.1,146 2029.4,147.2 2047.7,146.2 2066,145 2084.4,146 2102.7,146.2 2121,152.2 2139.3,153 2157.7,150.6 2176,149.2 2194.3,149 2212.7,153.2 2231,153 2249.3,152 2267.6,152.4 2286,152.2 2304.3,150.4 2322.6,151.8 2341,154.4 2359.3,154.6 2377.6,156.2 2395.9,157.6 2414.3,159 2432.6,162.4 2450.9,165.2 2469.3,162.8 2487.6,160.6 2505.9,161.2 2524.2,162 2542.6,164 2560.9,167.6 2579.2,169 2597.5,168.4 2615.9,166.4 2634.2,167.2 2652.5,169.2 2670.9,169.2 2689.2,171.6 2707.5,172.4 2725.8,172 2744.2,175 2762.5,175.8 2780.8,176 2799.2,177 2817.5,178.2 2835.8,178.2 2854.1,179.8 2872.5,181 2890.8,183 2909.1,185 2927.5,186.2 2945.8,189.2 2964.1,190.4 2982.4,190.2 3000.8,190.2 3019.1,190.8 3037.4,193.2"/>
<text class="st" text-anchor="middle" x="1672" y="71.20">Read_1_After_filtering</text>
<text class="at" text-anchor="end" x="149.4" y="488.75">32.5</text>
<text class="at" text-anchor="end" x="149.4" y="373.00">35.0</text>
<text class="at" text-anchor="end" x="149.4" y="257.25">37.5</text>
<text class="at" text-anchor="end" x="149.4" y="141.50">40.0</text>
</g>
<g>
<path class="gm" d="M170 1100.45H3174M170 984.71H3174M170 868.96H3174M170 753.21H3174M746.42 659.93V1133.63M1662.82 659.93V1133.63M2579.22 659.93V1133.63"/>
<path class="gM" d="M170 1042.58H3174M170 926.83H3174M170 811.08H3174M170 695.33H3174M288.22 659.93V1133.63M1204.62 659.93V1133.63M2121.02 659.93V1133.63M3037.42 659.93V1133.63"/>
<polyline class="ln" stroke="#F8766D" points="306.5,1086.4 324.9,1091.9 343.2,908.3 361.5,873.3 379.9,861 398.2,705 416.5,695.5 434.8,690.8 453.2,691.2 471.5,683.4 489.8,686.4 508.2,685.8 526.5,684.9 544.8,688.1 563.1,684.9 581.5,685.9 599.8,685.5 618.1,687.3 636.5,687.9 654.8,687.7 673.1,686.9 691.4,689.4 709.8,688.6 728.1,692 746.4,690.2 764.7,690.2 783.1,694.6 801.4,697.2 819.7,694.6 838.1,694.4 856.4,693.1 874.7,694.7 893,693.3 911.4,694.7 929.7,694.2 948,693.3 966.4,693.9 984.7,697.9 1003,693.5 1021.3,694 1039.7,694 1058,694.2 1076.3,695.2 1094.7,694.6 1113,695.2 1131.3,696.8 1149.6,695 1168,696.2 1186.3,695.8 1204.6,698.7 1222.9,701.7 1241.3,705.1 1259.6,700.9 1277.9,700.1 1296.3,701.3 1314.6,700.9 1332.9,704.7 1351.2,702.9 1369.6,704.6 1387.9,703.3 1406.2,702.8 1424.6,702.8 1442.9,705.3 1461.2,705.3 1479.5,703.6 1497.9,707.8 1516.2,706.8 1534.5,705.7 1552.9,711.1 1571.2,708.9 1589.5,707 1607.8,707.4 1626.2,707.2 1644.5,707.9 1662.8,708.9 1681.1,753.1 1699.5,727.5 1717.8,718.4 1736.1,714.4 1754.5,712.3 1772.8,716.1 1791.1,713.4 1809.4,713.6 1827.8,713.7 1846.1,715 1864.4,714.5 1882.8,714.9 1901.1,717.1 1919.4,716 1937.7,719.6 1956.1,718.2 1974.4,717.4 1992.7,717.4 2011.1,717.4 2029.4,718.6 2047.7,717.7 2066,716.7 2084.4,717.5 2102.7,717.9 2121,723.9 2139.3,724.7 2157.7,722.4 2176,721 2194.3,720.8 2212.7,725.2 2231,725 2249.3,724 2267.6,724.4 2286,724.3 2304.3,722.5 2322.6,723.9 2341,726.5 2359.3,726.7 2377.6,728.5 2395.9,729.9 2414.3,731.2 2432.6,734.6 2450.9,737.6 2469.3,735.2 2487.6,732.8 2505.9,733.6 2524.2,734.6 2542.6,736.5 2560.9,740.3 2579.2,741.7 2597.5,741.1 2615.9,739.1 2634.2,740.3 2652.5,742.1 2670.9,742 2689.2,744.8 2707.5,745.8 2725.8,745.6 2744.2,748.8 2762.5,750.2 2780.8,751.2 2799.2,752.3 2817.5,753.5 2835.8,753.5 2854.1,755.7 2872.5,757.1 2890.8,759.1 2909.1,761.5 2927.5,762.8 2945.8,765.6 2964.1,767.4 2982.4,767.2 3000.8,767.6 3019.1,768.2 3037.4,771.3"/>
<polyline class="ln" stroke="#DE8C00" points="306.5,1087.3 324.9,1090.6 343.2,908.3 361.5,873.3 379.9,861 398.2,706.4 416.5,698.7 434.8,696.4 453.2,693.5 471.5,683.4 489.8,686.4 508.2,685.8 526.5,684.9 544.8,688.1 563.1,684.9 581.5,685.9 599.8,685.5 618.1,687.3 636.5,687.9 654.8,687.7 673.1,686.9 691.4,689.4 709.8,688.6 728.1,692 746.4,690.2 764.7,690.2 783.1,694.6 801.4,697.2 819.7,694.6 838.1,694.4 856.4,693.1 874.7,694.7 893,693.3 911.4,694.7 929.7,694.2 948,693.3 966.4,693.9 984.7,697.9 1003,693.5 1021.3,694 1039.7,694 1058,694.2 1076.3,695.2 1094.7,694.6 1113,695.2 1131.3,696.8 1149.6,695 1168,696.2 1186.3,695.8 1204.6,698.7 1222.9,701.7 1241.3,705.1 1259.6,700.9 1277.9,700.1 1296.3,701.3 1314.6,700.9 1332.9,704.7 1351.2,702.9 1369.6,704.6 1387.9,703.3 1406.2,702.8 1424.6,702.8 1442.9,705.3 1461.2,705.3 1479.5,703.6 1497.9,707.8 1516.2,706.8 1534.5,705.7 1552.9,711.1 1571.2,708.9 1589.5,707 1607.8,707.4 1626.2,707.2 1644.5,707.9 1662.8,708.9 1681.1,753.1 1699.5,727.5 1717.8,718.4 1736.1,714.4 1754.5,712.3 1772.8,716.1 1791.1,713.4 1809.4,713.6 1827.8,713.7 1846.1,715 1864.4,714.5 1882.8,714.9 1901.1,717.1 1919.4,716.1 1937.7,719.7 1956.1,718.3 1974.4,717.5 1992.7,717.5 2011.1,717.5 2029.4,718.7 2047.7,717.9 2066,716.9 2084.4,717.7 2102.7,718.1 2121,724.1 2139.3,724.9 2157.7,722.7 2176,721.3 2194.3,721.1 2212.7,725.5 2231,725.3 2249.3,724.3 2267.6,724.7 2286,724.7 2304.3,722.9 2322.6,724.3 2341,726.9 2359.3,727.1 2377.6,728.9 2395.9,730.3 2414.3,731.7 2432.6,735.1 2450.9,738.1 2469.3,735.7 2487.6,733.3 2505.9,734.1 2524.2,735.1 2542.6,737.1 2560.9,740.9 2579.2,742.3 2597.5,741.7 2615.9,739.7 2634.2,740.9 2652.5,742.7 2670.9,742.7 2689.2,745.5 2707.5,746.5 2725.8,746.3 2744.2,749.5 2762.5,750.9 2780.8,751.9 2799.2,753.1 2817.5,754.3 2835.8,754.3 2854.1,756.5 2872.5,757.9 2890.8,759.9 2909.1,762.3 2927.5,763.7 2945.8,766.5 2964.1,768.3 2982.4,768.1 3000.8,768.5 3019.1,769.1 3037.4,772.3"/>
<polyline class="ln" stroke="#B79F00" points="306.5,1085.4 324.9,1092.9 343.2,907.8 361.5,872.9 379.9,860.5 398.2,705 416.5,694.8 434.8,689.7 453.2,690.5 471.5,683.1 489.8,686.2 508.2,685.6 526.5,684.6 544.8,687.8 563.1,684.6 581.5,685.6 599.8,685.3 618.1,687.1 636.5,687.7 654.8,687.5 673.1,686.7 691.4,689.1 709.8,688.4 728.1,691.8 746.4,690 764.7,690 783.1,694.4 801.4,697 819.7,694.5 838.1,694.3 856.4,692.9 874.7,694.5 893,693.1 911.4,694.5 929.7,694.1 948,693.2 966.4,693.8 984.7,697.8 1003,693.4 1021.3,693.8 1039.7,693.9 1058,694.1 1076.3,695.1 1094.7,694.5 1113,695.1 1131.3,696.7 1149.6,695 1168,696.2 1186.3,695.8 1204.6,698.6 1222.9,701.6 1241.3,705 1259.6,700.9 1277.9,700.1 1296.3,701.3 1314.6,700.9 1332.9,704.7 1351.2,702.9 1369.6,704.5 1387.9,703.3 1406.2,702.8 1424.6,702.8 1442.9,705.3 1461.2,705.3 1479.5,703.5 1497.9,707.7 1516.2,706.8 1534.5,705.6 1552.9,711 1571.2,708.8 1589.5,706.9 1607.8,707.3 1626.2,707.1 1644.5,707.8 1662.8,708.8 1681.1,752.9 1699.5,727.4 1717.8,718.2 1736.1,714.2 1754.5,712.2 1772.8,715.9 1791.1,713.2 1809.4,713.3 1827.8,713.4 1846.1,714.8 1864.4,714.3 1882.8,714.6 1901.1,716.8 1919.4,715.8 1937.7,719.4 1956.1,718 1974.4,717.2 1992.7,717.2 2011.1,717.2 2029.4,718.4 2047.7,717.5 2066,716.5 2084.4,717.3 2102.7,717.7 2121,723.7 2139.3,724.5 2157.7,722.3 2176,720.9 2194.3,720.7 2212.7,725 2231,724.8 2249.3,723.8 2267.6,724.2 2286,724.2 2304.3,722.4 2322.6,723.8 2341,726.4 2359.3,726.6 2377.6,728.4 2395.9,729.7 2414.3,731.1 2432.6,734.5 2450.9,737.5 2469.3,735.1 2487.6,732.7 2505.9,733.5 2524.2,734.5 2542.6,736.4 2560.9,740.2 2579.2,741.6 2597.5,741 2615.9,739 2634.2,740.2 2652.5,742 2670.9,742 2689.2,744.8 2707.5,745.7 2725.8,745.5 2744.2,748.7 2762.5,750.1 2780.8,751.1 2799.2,752.3 2817.5,753.5 2835.8,753.5 2854.1,755.7 2872.5,757.1 2890.8,759 2909.1,761.4 2927.5,762.8 2945.8,765.6 2964.1,767.4 2982.4,767.2 3000.8,767.6 3019.1,768.2 3037.4,771.3"/>
<polyline class="ln" stroke="#7CAE00" points="306.5,1088.2 324.9,1093.8 343.2,907.8 361.5,872.9 379.9,860.5 398.2,705.5 416.5,695 434.8,690.4 453.2,690.7 471.5,683.3 489.8,686.3 508.2,685.7 526.5,684.7 544.8,687.9 563.1,684.8 581.5,685.8 599.8,685.4 618.1,687.2 636.5,687.8 654.8,687.6 673.1,686.8 691.4,689.2 709.8,688.5 728.1,691.9 746.4,690.1 764.7,690.1 783.1,694.5 801.4,697.1 819.7,694.5 838.1,694.4 856.4,693 874.7,694.6 893,693.2 911.4,694.6 929.7,694.1 948,693.2 966.4,693.9 984.7,697.9 1003,693.5 1021.3,693.9 1039.7,693.9 1058,694.1 1076.3,695.1 1094.7,694.6 1113,695.2 1131.3,696.8 1149.6,695 1168,696.2 1186.3,695.8 1204.6,698.6 1222.9,701.6 1241.3,705.1 1259.6,700.9 1277.9,700.1 1296.3,701.3 1314.6,700.9 1332.9,704.7 1351.2,702.9 1369.6,704.6 1387.9,703.3 1406.2,702.8 1424.6,702.8 1442.9,705.3 1461.2,705.3 1479.5,703.5 1497.9,707.7 1516.2,706.8 1534.5,705.6 1552.9,711 1571.2,708.8 1589.5,706.9 1607.8,707.3 1626.2,707.1 1644.5,707.8 1662.8,708.8 1681.1,752.9 1699.5,727.4 1717.8,718.2 1736.1,714.2 1754.5,712.2 1772.8,715.9 1791.1,713.2 1809.4,713.3 1827.8,713.4 1846.1,714.8 1864.4,714.3 1882.8,714.6 1901.1,716.8 1919.4,715.8 1937.7,719.4 1956.1,718 1974.4,717.2 1992.7,717.2 2011.1,717.2 2029.4,718.4 2047.7,717.5 2066,716.5 2084.4,717.3 2102.7,717.7 2121,723.7 2139.3,724.5 2157.7,722.3 2176,720.9 2194.3,720.7 2212.7,725 2231,724.8 2249.3,723.8 2267.6,724.2 2286,724.2 2304.3,722.4 2322.6,723.8 2341,726.4 2359.3,726.6 2377.6,728.4 2395.9,729.7 2414.3,731.1 2432.6,734.5 2450.9,737.5 2469.3,735.1 2487.6,732.7 2505.9,733.5 2524.2,734.5 2542.6,736.4 2560.9,740.2 2579.2,741.6 2597.5,741 2615.9,739 2634.2,740.2 2652.5,742 2670.9,742 2689.2,744.8 2707.5,745.7 2725.8,745.5 2744.2,748.7 2762.5,750.1 2780.8,751.1 2799.2,752.3 2817.5,753.5 2835.8,753.5 2854.1,755.7 2872.5,757.1 2890.8,759 2909.1,761.4 2927.5,762.8 2945.8,765.6 2964.1,767.4 2982.4,767.2 3000.8,767.6 3019.1,768.2 3037.4,771.3"/>
<polyline class="ln" stroke="#00BA38" points="306.5,1088.7 324.9,1095.2 343.2,911.5 361.5,874.3 379.9,861.5 398.2,706.9 416.5,700.1 434.8,698.7 453.2,694.4 471.5,684.4 489.8,687.5 508.2,686.9 526.5,685.9 544.8,689.1 563.1,685.9 581.5,686.9 599.8,686.5 618.1,688.3 636.5,689 654.8,688.8 673.1,688 691.4,690.4 709.8,689.6 728.1,693 746.4,691.2 764.7,691.2 783.1,695.6 801.4,698.3 819.7,695.7 838.1,695.5 856.4,694.1 874.7,695.7 893,694.3 911.4,695.7 929.7,695.2 948,694.4 966.4,695 984.7,699 1003,694.6 1021.3,695 1039.7,695 1058,695.2 1076.3,696.2 1094.7,695.7 1113,696.3 1131.3,697.9 1149.6,696.1 1168,697.3 1186.3,696.9 1204.6,699.7 1222.9,702.7 1241.3,706.1 1259.6,702 1277.9,701.2 1296.3,702.4 1314.6,702 1332.9,705.8 1351.2,704 1369.6,705.6 1387.9,704.3 1406.2,703.9 1424.6,703.9 1442.9,706.3 1461.2,706.3 1479.5,704.5 1497.9,708.7 1516.2,707.7 1534.5,706.5 1552.9,712 1571.2,709.8 1589.5,707.8 1607.8,708.2 1626.2,708 1644.5,708.6 1662.8,709.6 1681.1,753.8 1699.5,728.2 1717.8,719 1736.1,715 1754.5,712.9 1772.8,716.6 1791.1,714 1809.4,714.1 1827.8,714.1 1846.1,715.5 1864.4,714.9 1882.8,715.3 1901.1,717.4 1919.4,716.4 1937.7,719.9 1956.1,718.5 1974.4,717.6 1992.7,717.6 2011.1,717.5 2029.4,718.7 2047.7,717.8 2066,716.8 2084.4,717.6 2102.7,717.9 2121,723.9 2139.3,724.6 2157.7,722.4 2176,720.9 2194.3,720.7 2212.7,725 2231,724.7 2249.3,723.6 2267.6,723.9 2286,723.8 2304.3,721.9 2322.6,723.2 2341,725.7 2359.3,725.8 2377.6,727.5 2395.9,728.8 2414.3,730.1 2432.6,733.3 2450.9,736.2 2469.3,733.8 2487.6,731.3 2505.9,732.1 2524.2,733 2542.6,734.9 2560.9,738.7 2579.2,740 2597.5,739.4 2615.9,737.3 2634.2,738.5 2652.5,740.2 2670.9,740.1 2689.2,742.9 2707.5,743.8 2725.8,743.6 2744.2,746.7 2762.5,748 2780.8,749 2799.2,750.1 2817.5,751.3 2835.8,751.2 2854.1,753.4 2872.5,754.7 2890.8,756.6 2909.1,759 2927.5,760.3 2945.8,763.1 2964.1,764.8 2982.4,764.5 3000.8,764.9 3019.1,765.4 3037.4,768.6"/>
<polyline class="ln" stroke="#00C08B" points="306.5,1085.4 324.9,1096.1 343.2,924.5 361.5,876.6 379.9,861.5 398.2,707.3 416.5,698.7 434.8,694.1 453.2,693 471.5,684.9 489.8,687.9 508.2,687.3 526.5,686.3 544.8,689.5 563.1,686.3 581.5,687.3 599.8,686.9 618.1,688.7 636.5,689.3 654.8,689.1 673.1,688.3 691.4,690.7 709.8,690 728.1,693.4 746.4,691.6 764.7,691.6 783.1,696 801.4,698.7 819.7,696.1 838.1,695.9 856.4,694.5 874.7,696.2 893,694.8 911.4,696.2 929.7,695.7 948,694.8 966.4,695.5 984.7,699.5 1003,695.1 1021.3,695.5 1039.7,695.5 1058,695.8 1076.3,696.8 1094.7,696.2 1113,696.8 1131.3,698.5 1149.6,696.7 1168,697.9 1186.3,697.5 1204.6,700.3 1222.9,703.4 1241.3,706.8 1259.6,702.6 1277.9,701.8 1296.3,703 1314.6,702.7 1332.9,706.5 1351.2,704.7 1369.6,706.3 1387.9,705 1406.2,704.6 1424.6,704.6 1442.9,707 1461.2,707 1479.5,705.3 1497.9,709.5 1516.2,708.5 1534.5,707.3 1552.9,712.7 1571.2,710.6 1589.5,708.6 1607.8,709 1626.2,708.8 1644.5,709.4 1662.8,710.5 1681.1,754.6 1699.5,729 1717.8,719.9 1736.1,715.9 1754.5,713.8 1772.8,717.5 1791.1,714.9 1809.4,715 1827.8,715.1 1846.1,716.4 1864.4,715.8 1882.8,716.1 1901.1,718.3 1919.4,717.2 1937.7,720.7 1956.1,719.3 1974.4,718.4 1992.7,718.3 2011.1,718.3 2029.4,719.4 2047.7,718.5 2066,717.4 2084.4,718.2 2102.7,718.5 2121,724.4 2139.3,725.2 2157.7,722.9 2176,721.4 2194.3,721.2 2212.7,725.5 2231,725.1 2249.3,724 2267.6,724.2 2286,724 2304.3,722.1 2322.6,723.3 2341,725.8 2359.3,725.8 2377.6,727.5 2395.9,728.7 2414.3,729.9 2432.6,733.2 2450.9,736 2469.3,733.5 2487.6,731.1 2505.9,731.8 2524.2,732.8 2542.6,734.7 2560.9,738.5 2579.2,739.8 2597.5,739.1 2615.9,737.1 2634.2,738.2 2652.5,740 2670.9,739.9 2689.2,742.6 2707.5,743.6 2725.8,743.3 2744.2,746.5 2762.5,747.8 2780.8,748.8 2799.2,749.9 2817.5,751 2835.8,751 2854.1,753.1 2872.5,754.5 2890.8,756.4 2909.1,758.8 2927.5,760.1 2945.8,762.8 2964.1,764.6 2982.4,764.3 3000.8,764.7 3019.1,765.2 3037.4,768.3"/>
<polyline class="ln" stroke="#00BFC4" points="306.5,1086.4 324.9,1096.6 343.2,923.6 361.5,876.6 379.9,861.5 398.2,707.8 416.5,699.2 434.8,694.6 453.2,693.5 471.5,685.4 489.8,688.4 508.2,687.8 526.5,686.8 544.8,690.1 563.1,686.9 581.5,687.9 599.8,687.5 618.1,689.4 636.5,690 654.8,689.8 673.1,689 691.4,691.4 709.8,690.7 728.1,694.1 746.4,692.3 764.7,692.3 783.1,696.8 801.4,699.4 819.7,696.8 838.1,696.6 856.4,695.2 874.7,696.9 893,695.5 911.4,696.9 929.7,696.4 948,695.6 966.4,696.2 984.7,700.2 1003,695.8 1021.3,696.3 1039.7,696.3 1058,696.5 1076.3,697.5 1094.7,696.9 1113,697.6 1131.3,699.2 1149.6,697.4 1168,698.6 1186.3,698.3 1204.6,701.1 1222.9,704.1 1241.3,707.5 1259.6,703.4 1277.9,702.6 1296.3,703.8 1314.6,703.4 1332.9,707.2 1351.2,705.5 1369.6,707.1 1387.9,705.8 1406.2,705.3 1424.6,705.3 1442.9,707.7 1461.2,707.8 1479.5,706 1497.9,710.2 1516.2,709.2 1534.5,708 1552.9,713.4 1571.2,711.2 1589.5,709.2 1607.8,709.6 1626.2,709.4 1644.5,710 1662.8,711.1 1681.1,755.2 1699.5,729.6 1717.8,720.4 1736.1,716.4 1754.5,714.3 1772.8,718 1791.1,715.4 1809.4,715.5 1827.8,715.5 1846.1,716.8 1864.4,716.3 1882.8,716.6 1901.1,718.8 1919.4,717.7 1937.7,721.3 1956.1,719.8 1974.4,719 1992.7,718.9 2011.1,718.9 2029.4,720 2047.7,719.2 2066,718.1 2084.4,718.9 2102.7,719.2 2121,725.1 2139.3,725.9 2157.7,723.6 2176,722.2 2194.3,721.9 2212.7,726.3 2231,726 2249.3,725 2267.6,725.3 2286,725.3 2304.3,723.4 2322.6,724.8 2341,727.3 2359.3,727.5 2377.6,729.2 2395.9,730.6 2414.3,731.9 2432.6,735.2 2450.9,738.2 2469.3,735.7 2487.6,733.3 2505.9,734 2524.2,734.9 2542.6,736.9 2560.9,740.6 2579.2,741.9 2597.5,741.2 2615.9,739.1 2634.2,740.3 2652.5,742 2670.9,741.9 2689.2,744.6 2707.5,745.6 2725.8,745.3 2744.2,748.4 2762.5,749.7 2780.8,750.7 2799.2,751.8 2817.5,752.9 2835.8,752.8 2854.1,754.9 2872.5,756.3 2890.8,758.2 2909.1,760.5 2927.5,761.8 2945.8,764.5 2964.1,766.3 2982.4,766 3000.8,766.3 3019.1,766.8 3037.4,770"/>
<polyline class="ln" stroke="#00B4F0" points="306.5,1089.1 324.9,1098.9 343.2,926.3 361.5,876.3 379.9,861.5 398.2,707.8 416.5,703.8 434.8,703.8 453.2,698.1 471.5,686.8 489.8,689.6 508.2,688.9 526.5,687.8 544.8,690.9 563.1,687.6 581.5,688.5 599.8,687.9 618.1,689.6 636.5,690.1 654.8,689.8 673.1,689 691.4,691.4 709.8,690.6 728.1,694 746.4,692.3 764.7,692.3 783.1,696.7 801.4,699.3 819.7,696.7 838.1,696.5 856.4,695.1 874.7,696.7 893,695.3 911.4,696.7 929.7,696.3 948,695.4 966.4,696 984.7,700 1003,695.6 1021.3,696 1039.7,696 1058,696.2 1076.3,697.2 1094.7,696.6 1113,697.3 1131.3,698.9 1149.6,697.1 1168,698.3 1186.3,697.9 1204.6,700.7 1222.9,703.7 1241.3,707.1 1259.6,702.9 1277.9,702.2 1296.3,703.4 1314.6,703 1332.9,706.8 1351.2,705 1369.6,706.6 1387.9,705.3 1406.2,704.8 1424.6,704.8 1442.9,707.2 1461.2,707.3 1479.5,705.5 1497.9,709.7 1516.2,708.7 1534.5,707.5 1552.9,712.9 1571.2,710.7 1589.5,708.7 1607.8,709.1 1626.2,709 1644.5,709.6 1662.8,710.6 1681.1,754.7 1699.5,729.1 1717.8,719.9 1736.1,716 1754.5,713.9 1772.8,717.6 1791.1,714.9 1809.4,715 1827.8,715.1 1846.1,716.4 1864.4,715.9 1882.8,716.2 1901.1,718.4 1919.4,717.4 1937.7,720.9 1956.1,719.5 1974.4,718.7 1992.7,718.7 2011.1,718.6 2029.4,719.8 2047.7,719 2066,718 2084.4,718.7 2102.7,719.1 2121,725.1 2139.3,725.9 2157.7,723.6 2176,722.2 2194.3,722 2212.7,726.3 2231,726.1 2249.3,725.1 2267.6,725.5 2286,725.4 2304.3,723.6 2322.6,725 2341,727.6 2359.3,727.7 2377.6,729.5 2395.9,730.9 2414.3,732.3 2432.6,735.6 2450.9,738.6 2469.3,736.2 2487.6,733.8 2505.9,734.5 2524.2,735.5 2542.6,737.4 2560.9,741.2 2579.2,742.5 2597.5,741.9 2615.9,739.8 2634.2,741 2652.5,742.7 2670.9,742.7 2689.2,745.4 2707.5,746.4 2725.8,746.1 2744.2,749.3 2762.5,750.7 2780.8,751.6 2799.2,752.8 2817.5,753.9 2835.8,753.9 2854.1,756 2872.5,757.4 2890.8,759.3 2909.1,761.7 2927.5,763 2945.8,765.8 2964.1,767.5 2982.4,767.3 3000.8,767.6 3019.1,768.2 3037.4,771.3"/>
<polyline class="ln" stroke="#619CFF" points="306.5,1087.3 324.9,1094.7 343.2,909.2 361.5,872.4 379.9,860.5 398.2,705.5 416.5,697.8 434.8,693.6 453.2,692.6 471.5,684 489.8,687 508.2,686.4 526.5,685.4 544.8,688.6 563.1,685.4 581.5,686.4 599.8,686 618.1,687.8 636.5,688.4 654.8,688.2 673.1,687.4 691.4,689.9 709.8,689.1 728.1,692.5 746.4,690.7 764.7,690.7 783.1,695.1 801.4,697.7 819.7,695.1 838.1,694.9 856.4,693.5 874.7,695.1 893,693.7 911.4,695.1 929.7,694.6 948,693.7 966.4,694.3 984.7,698.3 1003,694 1021.3,694.4 1039.7,694.4 1058,694.6 1076.3,695.6 1094.7,695 1113,695.6 1131.3,697.2 1149.6,695.4 1168,696.6 1186.3,696.2 1204.6,699 1222.9,702 1241.3,705.4 1259.6,701.2 1277.9,700.4 1296.3,701.6 1314.6,701.3 1332.9,705.1 1351.2,703.3 1369.6,704.9 1387.9,703.6 1406.2,703.1 1424.6,703.1 1442.9,705.5 1461.2,705.5 1479.5,703.7 1497.9,707.9 1516.2,706.9 1534.5,705.7 1552.9,711.1 1571.2,708.9 1589.5,706.9 1607.8,707.3 1626.2,707.2 1644.5,707.8 1662.8,708.8 1681.1,752.9 1699.5,727.3 1717.8,718.1 1736.1,714.1 1754.5,712 1772.8,715.7 1791.1,713 1809.4,713.2 1827.8,713.2 1846.1,714.5 1864.4,714 1882.8,714.4 1901.1,716.6 1919.4,715.5 1937.7,719.1 1956.1,717.7 1974.4,716.9 1992.7,716.8 2011.1,716.8 2029.4,718 2047.7,717.2 2066,716.2 2084.4,716.9 2102.7,717.3 2121,723.3 2139.3,724.1 2157.7,721.8 2176,720.4 2194.3,720.2 2212.7,724.6 2231,724.3 2249.3,723.2 2267.6,723.5 2286,723.4 2304.3,721.5 2322.6,722.8 2341,725.3 2359.3,725.4 2377.6,727.1 2395.9,728.4 2414.3,729.8 2432.6,733.2 2450.9,736.2 2469.3,733.7 2487.6,731.3 2505.9,732.1 2524.2,733.1 2542.6,735 2560.9,738.8 2579.2,740.2 2597.5,739.5 2615.9,737.5 2634.2,738.7 2652.5,740.5 2670.9,740.4 2689.2,743.2 2707.5,744.2 2725.8,744 2744.2,747.1 2762.5,748.5 2780.8,749.5 2799.2,750.7 2817.5,751.8 2835.8,751.8 2854.1,754 2872.5,755.3 2890.8,757.3 2909.1,759.7 2927.5,761.1 2945.8,763.8 2964.1,765.6 2982.4,765.4 3000.8,765.8 3019.1,766.3 3037.4,769.5"/>
<polyline class="ln" stroke="#C77CFF" points="306.5,1085.9 324.9,1093.8 343.2,909.2 361.5,873.8 379.9,861 398.2,704.5 416.5,697.8 434.8,694.6 453.2,692.6 471.5,684.4 489.8,687.5 508.2,686.9 526.5,686 544.8,689.2 563.1,686.1 581.5,687.1 599.8,686.8 618.1,688.6 636.5,689.3 654.8,689.1 673.1,688.3 691.4,690.7 709.8,690 728.1,693.4 746.4,691.6 764.7,691.6 783.1,696.1 801.4,698.7 819.7,696.1 838.1,695.9 856.4,694.6 874.7,696.2 893,694.8 911.4,696.2 929.7,695.7 948,694.9 966.4,695.5 984.7,699.5 1003,695.1 1021.3,695.6 1039.7,695.6 1058,695.8 1076.3,696.8 1094.7,696.3 1113,696.9 1131.3,698.5 1149.6,696.7 1168,697.9 1186.3,697.6 1204.6,700.4 1222.9,703.4 1241.3,706.8 1259.6,702.7 1277.9,701.9 1296.3,703.1 1314.6,702.7 1332.9,706.5 1351.2,704.8 1369.6,706.4 1387.9,705.1 1406.2,704.6 1424.6,704.7 1442.9,707.1 1461.2,707.1 1479.5,705.3 1497.9,709.5 1516.2,708.5 1534.5,707.4 1552.9,712.8 1571.2,710.6 1589.5,708.6 1607.8,709 1626.2,708.8 1644.5,709.5 1662.8,710.5 1681.1,754.6 1699.5,729 1717.8,719.8 1736.1,715.8 1754.5,713.8 1772.8,717.5 1791.1,714.8 1809.4,714.9 1827.8,714.9 1846.1,716.2 1864.4,715.8 1882.8,716.2 1901.1,718.4 1919.4,717.4 1937.7,721 1956.1,719.6 1974.4,718.8 1992.7,718.8 2011.1,718.8 2029.4,720 2047.7,719.2 2066,718.2 2084.4,719 2102.7,719.4 2121,725.4 2139.3,726.2 2157.7,724 2176,722.6 2194.3,722.4 2212.7,726.8 2231,726.7 2249.3,725.7 2267.6,726.1 2286,726.1 2304.3,724.3 2322.6,725.7 2341,728.4 2359.3,728.6 2377.6,730.5 2395.9,732 2414.3,733.4 2432.6,736.9 2450.9,739.9 2469.3,737.6 2487.6,735.2 2505.9,736.1 2524.2,737.1 2542.6,739.2 2560.9,743 2579.2,744.5 2597.5,744 2615.9,742 2634.2,743.3 2652.5,745.1 2670.9,745.2 2689.2,748 2707.5,749.1 2725.8,748.9 2744.2,752.2 2762.5,753.7 2780.8,754.8 2799.2,756.1 2817.5,757.4 2835.8,757.6 2854.1,759.9 2872.5,761.4 2890.8,763.5 2909.1,766 2927.5,767.6 2945.8,770.5 2964.1,772.4 2982.4,772.3 3000.8,772.9 3019.1,773.6 3037.4,776.9"/>
<polyline class="ln" stroke="#F564E3" points="306.5,1083.1 324.9,1088.2 343.2,908.3 361.5,873.3 379.9,861 398.2,701.8 416.5,695.9 434.8,694.1 453.2,692.1 471.5,684 489.8,687 508.2,686.4 526.5,685.4 544.8,688.6 563.1,685.4 581.5,686.4 599.8,686 618.1,687.8 636.5,688.4 654.8,688.2 673.1,687.4 691.4,689.8 709.8,689 728.1,692.4 746.4,690.6 764.7,690.7 783.1,695.1 801.4,697.7 819.7,695.1 838.1,694.9 856.4,693.5 874.7,695.1 893,693.7 911.4,695.1 929.7,694.6 948,693.7 966.4,694.3 984.7,698.3 1003,693.9 1021.3,694.3 1039.7,694.3 1058,694.5 1076.3,695.5 1094.7,694.9 1113,695.5 1131.3,697.1 1149.6,695.3 1168,696.5 1186.3,696.2 1204.6,699 1222.9,702 1241.3,705.4 1259.6,701.2 1277.9,700.4 1296.3,701.6 1314.6,701.2 1332.9,705 1351.2,703.2 1369.6,704.8 1387.9,703.5 1406.2,703 1424.6,703 1442.9,705.5 1461.2,705.5 1479.5,703.7 1497.9,707.9 1516.2,706.9 1534.5,705.7 1552.9,711.2 1571.2,709 1589.5,707 1607.8,707.4 1626.2,707.2 1644.5,707.9 1662.8,708.9 1681.1,753 1699.5,727.4 1717.8,718.3 1736.1,714.3 1754.5,712.2 1772.8,715.9 1791.1,713.2 1809.4,713.4 1827.8,713.4 1846.1,714.8 1864.4,714.3 1882.8,714.7 1901.1,716.9 1919.4,716 1937.7,719.6 1956.1,718.2 1974.4,717.5 1992.7,717.5 2011.1,717.5 2029.4,718.7 2047.7,718 2066,717 2084.4,717.8 2102.7,718.3 2121,724.3 2139.3,725.1 2157.7,722.9 2176,721.6 2194.3,721.4 2212.7,725.8 2231,725.6 2249.3,724.7 2267.6,725.1 2286,725.1 2304.3,723.4 2322.6,724.8 2341,727.4 2359.3,727.6 2377.6,729.4 2395.9,730.9 2414.3,732.3 2432.6,735.7 2450.9,738.7 2469.3,736.4 2487.6,734 2505.9,734.8 2524.2,735.9 2542.6,737.9 2560.9,741.8 2579.2,743.2 2597.5,742.7 2615.9,740.8 2634.2,742 2652.5,743.9 2670.9,743.9 2689.2,746.8 2707.5,747.8 2725.8,747.7 2744.2,750.9 2762.5,752.4 2780.8,753.4 2799.2,754.7 2817.5,756 2835.8,756 2854.1,758.3 2872.5,759.7 2890.8,761.8 2909.1,764.2 2927.5,765.7 2945.8,768.5 2964.1,770.4 2982.4,770.2 3000.8,770.7 3019.1,771.3 3037.4,774.6"/>
<polyline class="ln" stroke="#FF64B0" points="306.5,1091 324.9,1097.5 343.2,909.2 361.5,873.8 379.9,861 398.2,706.4 416.5,697.8 434.8,692.7 453.2,692.1 471.5,684 489.8,687 508.2,686.4 526.5,685.4 544.8,688.6 563.1,685.4 581.5,686.4 599.8,686 618.1,687.8 636.5,688.4 654.8,688.2 673.1,687.4 691.4,689.8 709.8,689 728.1,692.4 746.4,690.6 764.7,690.6 783.1,695 801.4,697.6 819.7,695 838.1,694.8 856.4,693.4 874.7,695 893,693.6 911.4,695 929.7,694.5 948,693.6 966.4,694.2 984.7,698.2 1003,693.8 1021.3,694.2 1039.7,694.2 1058,694.4 1076.3,695.4 1094.7,694.8 1113,695.4 1131.3,697 1149.6,695.2 1168,696.4 1186.3,696 1204.6,698.8 1222.9,701.8 1241.3,705.2 1259.6,701 1277.9,700.2 1296.3,701.4 1314.6,701 1332.9,704.8 1351.2,703 1369.6,704.6 1387.9,703.3 1406.2,702.8 1424.6,702.8 1442.9,705.2 1461.2,705.2 1479.5,703.4 1497.9,707.6 1516.2,706.6 1534.5,705.4 1552.9,710.8 1571.2,708.6 1589.5,706.6 1607.8,707 1626.2,706.8 1644.5,707.4 1662.8,708.4 1681.1,752.5 1699.5,726.9 1717.8,717.7 1736.1,713.7 1754.5,711.6 1772.8,715.3 1791.1,712.6 1809.4,712.7 1827.8,712.8 1846.1,714.1 1864.4,713.6 1882.8,714 1901.1,716.2 1919.4,715.2 1937.7,718.8 1956.1,717.4 1974.4,716.6 1992.7,716.6 2011.1,716.6 2029.4,717.8 2047.7,717 2066,716 2084.4,716.8 2102.7,717.2 2121,723.2 2139.3,724 2157.7,721.8 2176,720.4 2194.3,720.2 2212.7,724.6 2231,724.4 2249.3,723.4 2267.6,723.8 2286,723.8 2304.3,722 2322.6,723.4 2341,726 2359.3,726.2 2377.6,728 2395.9,729.4 2414.3,730.8 2432.6,734.2 2450.9,737.2 2469.3,734.8 2487.6,732.4 2505.9,733.2 2524.2,734.2 2542.6,736.2 2560.9,740 2579.2,741.4 2597.5,740.8 2615.9,738.8 2634.2,740 2652.5,741.8 2670.9,741.8 2689.2,744.6 2707.5,745.6 2725.8,745.4 2744.2,748.5 2762.5,750 2780.8,751 2799.2,752.2 2817.5,753.4 2835.8,753.4 2854.1,755.6 2872.5,757 2890.8,759 2909.1,761.4 2927.5,762.8 2945.8,765.6 2964.1,767.4 2982.4,767.2 3000.8,767.6 3019.1,768.2 3037.4,771.3"/>
<text class="st" text-anchor="middle" x="1672" y="638.03">Read_1_Before_filtering</text>
<text class="at" text-anchor="end" x="149.4" y="1055.58">32.5</text>
<text class="at" text-anchor="end" x="149.4" y="939.83">35.0</text>
<text class="at" text-anchor="end" x="149.4" y="824.08">37.5</text>
<text class="at" text-anchor="end" x="149.4" y="708.33">40.0</text>
</g>
<g>
<path class="gm" d="M170 1667.29H3174M170 1551.54H3174M170 1435.79H3174M170 1320.04H3174M746.42 1226.76V1700.46M1662.82 1226.76V1700.46M2579.22 1226.76V1700.46"/>
<path class="gM" d="M170 1609.41H3174M170 1493.66H3174M170 1377.91H3174M170 1262.16H3174M288.22 1226.76V1700.46M1204.62 1226.76V1700.46M2121.02 1226.76V1700.46M3037.42 1226.76V1700.46"/>
<polyline class="ln" stroke="#F8766D" points="306.5,1671.8 324.9,1662.8 343.2,1488.4 361.5,1457.9 379.9,1446.8 398.2,1292.4 416.5,1294.7 434.8,1289 453.2,1290.5 471.5,1283.7 489.8,1284.6 508.2,1287.1 526.5,1286.8 544.8,1287.7 563.1,1288.2 581.5,1289 599.8,1288.1 618.1,1288.3 636.5,1288.7 654.8,1289.5 673.1,1290.3 691.4,1291.1 709.8,1290.5 728.1,1290.3 746.4,1291.9 764.7,1291 783.1,1290.2 801.4,1291.8 819.7,1292.4 838.1,1292.2 856.4,1293 874.7,1292.2 893,1294.2 911.4,1297.2 929.7,1296 948,1300.1 966.4,1300.3 984.7,1301.3 1003,1299.3 1021.3,1297.3 1039.7,1298.3 1058,1300.1 1076.3,1299.3 1094.7,1302.4 1113,1308.4 1131.3,1305.8 1149.6,1303.2 1168,1304.8 1186.3,1302.2 1204.6,1307.4 1222.9,1304.3 1241.3,1305.5 1259.6,1306.3 1277.9,1306.7 1296.3,1309.9 1314.6,1317.3 1332.9,1312.9 1351.2,1312 1369.6,1310.6 1387.9,1309.6 1406.2,1313 1424.6,1314 1442.9,1310.6 1461.2,1316.7 1479.5,1314.9 1497.9,1313.7 1516.2,1317.5 1534.5,1321.3 1552.9,1316.7 1571.2,1320.5 1589.5,1322.6 1607.8,1318.8 1626.2,1320.8 1644.5,1317.8 1662.8,1317.6 1681.1,1381.7 1699.5,1351.5 1717.8,1338.8 1736.1,1329.3 1754.5,1327.3 1772.8,1326.3 1791.1,1326.1 1809.4,1323.3 1827.8,1327.1 1846.1,1332 1864.4,1330.1 1882.8,1326.5 1901.1,1328.6 1919.4,1330.6 1937.7,1334.2 1956.1,1333 1974.4,1333.6 1992.7,1335.8 2011.1,1334.2 2029.4,1334.6 2047.7,1335.2 2066,1338 2084.4,1337.2 2102.7,1342.6 2121,1341.4 2139.3,1344.5 2157.7,1346.5 2176,1348.3 2194.3,1347.1 2212.7,1348 2231,1349.8 2249.3,1348.9 2267.6,1353.1 2286,1352.8 2304.3,1354 2322.6,1358.1 2341,1359.9 2359.3,1363.6 2377.6,1365.4 2395.9,1366.9 2414.3,1364.7 2432.6,1367.6 2450.9,1367.2 2469.3,1374.9 2487.6,1380 2505.9,1379.6 2524.2,1378.3 2542.6,1379.9 2560.9,1383.8 2579.2,1387 2597.5,1390.5 2615.9,1387.7 2634.2,1390.8 2652.5,1393.4 2670.9,1398.5 2689.2,1397.9 2707.5,1404.2 2725.8,1406.1 2744.2,1406.6 2762.5,1408.8 2780.8,1410.1 2799.2,1410.8 2817.5,1415.8 2835.8,1421.3 2854.1,1424.7 2872.5,1426 2890.8,1434 2909.1,1439.5 2927.5,1444.5 2945.8,1441 2964.1,1439.2 2982.4,1449.7 3000.8,1454.7 3019.1,1454.7 3037.4,1456.2"/>
<polyline class="ln" stroke="#DE8C00" points="306.5,1673 324.9,1664.1 343.2,1488.7 361.5,1458.2 379.9,1447.1 398.2,1294.4 416.5,1297.4 434.8,1291.7 453.2,1293.7 471.5,1285.7 489.8,1286.7 508.2,1289.4 526.5,1289.3 544.8,1290.3 563.1,1291 581.5,1291.9 599.8,1291.1 618.1,1291.3 636.5,1291.8 654.8,1292.6 673.1,1293.4 691.4,1294.2 709.8,1293.7 728.1,1293.5 746.4,1295.1 764.7,1294.4 783.1,1293.6 801.4,1295.2 819.7,1295.8 838.1,1295.7 856.4,1296.5 874.7,1295.7 893,1297.8 911.4,1300.8 929.7,1299.6 948,1303.8 966.4,1304.1 984.7,1305.1 1003,1303.1 1021.3,1301.2 1039.7,1302.2 1058,1304 1076.3,1303.2 1094.7,1306.2 1113,1312.2 1131.3,1309.6 1149.6,1307.1 1168,1308.7 1186.3,1306.1 1204.6,1311.3 1222.9,1308.1 1241.3,1309.3 1259.6,1310.1 1277.9,1310.5 1296.3,1313.8 1314.6,1321.2 1332.9,1316.8 1351.2,1315.8 1369.6,1314.4 1387.9,1313.4 1406.2,1316.8 1424.6,1317.9 1442.9,1314.5 1461.2,1320.5 1479.5,1318.7 1497.9,1317.5 1516.2,1321.3 1534.5,1325.1 1552.9,1320.5 1571.2,1324.4 1589.5,1326.4 1607.8,1322.6 1626.2,1324.6 1644.5,1321.6 1662.8,1321.4 1681.1,1388 1699.5,1356.7 1717.8,1342.9 1736.1,1333.3 1754.5,1331.3 1772.8,1330.4 1791.1,1330.2 1809.4,1327.5 1827.8,1331.3 1846.1,1336.2 1864.4,1334.4 1882.8,1330.8 1901.1,1332.8 1919.4,1334.9 1937.7,1338.5 1956.1,1337.4 1974.4,1338 1992.7,1340.2 2011.1,1338.7 2029.4,1339.1 2047.7,1339.7 2066,1342.6 2084.4,1341.8 2102.7,1347.2 2121,1346.1 2139.3,1349.1 2157.7,1351.1 2176,1353 2194.3,1351.8 2212.7,1352.8 2231,1354.5 2249.3,1353.7 2267.6,1357.8 2286,1357.6 2304.3,1358.7 2322.6,1362.9 2341,1364.6 2359.3,1368.4 2377.6,1370.1 2395.9,1371.7 2414.3,1369.4 2432.6,1372.4 2450.9,1371.9 2469.3,1379.7 2487.6,1384.8 2505.9,1384.4 2524.2,1383.1 2542.6,1384.7 2560.9,1388.6 2579.2,1391.8 2597.5,1395.3 2615.9,1392.5 2634.2,1395.6 2652.5,1398.2 2670.9,1403.3 2689.2,1402.7 2707.5,1409 2725.8,1411 2744.2,1411.5 2762.5,1413.7 2780.8,1415.1 2799.2,1415.8 2817.5,1420.8 2835.8,1426.3 2854.1,1429.8 2872.5,1431.1 2890.8,1439.1 2909.1,1444.6 2927.5,1449.7 2945.8,1446.2 2964.1,1444.5 2982.4,1454.9 3000.8,1460 3019.1,1460.1 3037.4,1461.6"/>
<polyline class="ln" stroke="#B79F00" points="306.5,1673.2 324.9,1664.3 343.2,1488.9 361.5,1458.4 379.9,1447.3 398.2,1294.8 416.5,1297.8 434.8,1292.1 453.2,1294.1 471.5,1285.8 489.8,1286.9 508.2,1289.6 526.5,1289.4 544.8,1290.5 563.1,1291.2 581.5,1292.1 599.8,1291.3 618.1,1291.5 636.5,1291.9 654.8,1292.8 673.1,1293.6 691.4,1294.4 709.8,1293.9 728.1,1293.7 746.4,1295.3 764.7,1294.5 783.1,1293.8 801.4,1295.4 819.7,1296 838.1,1295.9 856.4,1296.7 874.7,1295.9 893,1297.9 911.4,1301 929.7,1299.8 948,1304 966.4,1304.3 984.7,1305.3 1003,1303.3 1021.3,1301.4 1039.7,1302.4 1058,1304.2 1076.3,1303.4 1094.7,1306.4 1113,1312.4 1131.3,1309.8 1149.6,1307.2 1168,1308.9 1186.3,1306.3 1204.6,1311.5 1222.9,1308.3 1241.3,1309.5 1259.6,1310.3 1277.9,1310.7 1296.3,1313.9 1314.6,1321.3 1332.9,1317 1351.2,1316 1369.6,1314.6 1387.9,1313.6 1406.2,1317 1424.6,1318 1442.9,1314.7 1461.2,1320.7 1479.5,1318.9 1497.9,1317.7 1516.2,1321.5 1534.5,1325.3 1552.9,1320.7 1571.2,1324.5 1589.5,1326.5 1607.8,1322.8 1626.2,1324.8 1644.5,1321.8 1662.8,1321.6 1681.1,1388.2 1699.5,1356.9 1717.8,1343.1 1736.1,1333.5 1754.5,1331.5 1772.8,1330.6 1791.1,1330.4 1809.4,1327.6 1827.8,1331.5 1846.1,1336.4 1864.4,1334.6 1882.8,1331 1901.1,1333 1919.4,1335.1 1937.7,1338.7 1956.1,1337.5 1974.4,1338.2 1992.7,1340.4 2011.1,1338.8 2029.4,1339.3 2047.7,1339.9 2066,1342.7 2084.4,1342 2102.7,1347.4 2121,1346.3 2139.3,1349.3 2157.7,1351.3 2176,1353.2 2194.3,1352 2212.7,1352.9 2231,1354.7 2249.3,1353.8 2267.6,1358 2286,1357.7 2304.3,1358.9 2322.6,1363.1 2341,1364.8 2359.3,1368.6 2377.6,1370.3 2395.9,1371.9 2414.3,1369.6 2432.6,1372.6 2450.9,1372.1 2469.3,1379.9 2487.6,1385 2505.9,1384.6 2524.2,1383.3 2542.6,1384.9 2560.9,1388.8 2579.2,1392 2597.5,1395.5 2615.9,1392.7 2634.2,1395.8 2652.5,1398.4 2670.9,1403.5 2689.2,1402.9 2707.5,1409.2 2725.8,1411.2 2744.2,1411.7 2762.5,1413.9 2780.8,1415.3 2799.2,1415.9 2817.5,1421 2835.8,1426.5 2854.1,1430 2872.5,1431.2 2890.8,1439.3 2909.1,1444.8 2927.5,1449.9 2945.8,1446.4 2964.1,1444.6 2982.4,1455.1 3000.8,1460.2 3019.1,1460.3 3037.4,1461.7"/>
<polyline class="ln" stroke="#7CAE00" points="306.5,1673.1 324.9,1664.2 343.2,1488.8 361.5,1458.3 379.9,1447.2 398.2,1294.5 416.5,1297.5 434.8,1291.8 453.2,1293.7 471.5,1285.7 489.8,1286.8 508.2,1289.5 526.5,1289.4 544.8,1290.4 563.1,1291.1 581.5,1292 599.8,1291.2 618.1,1291.4 636.5,1291.8 654.8,1292.7 673.1,1293.5 691.4,1294.3 709.8,1293.8 728.1,1293.6 746.4,1295.2 764.7,1294.5 783.1,1293.7 801.4,1295.3 819.7,1295.9 838.1,1295.8 856.4,1296.6 874.7,1295.8 893,1297.9 911.4,1300.9 929.7,1299.7 948,1303.9 966.4,1304.2 984.7,1305.2 1003,1303.2 1021.3,1301.3 1039.7,1302.3 1058,1304.1 1076.3,1303.3 1094.7,1306.3 1113,1312.3 1131.3,1309.7 1149.6,1307.1 1168,1308.8 1186.3,1306.2 1204.6,1311.4 1222.9,1308.2 1241.3,1309.4 1259.6,1310.2 1277.9,1310.6 1296.3,1313.8 1314.6,1321.3 1332.9,1316.9 1351.2,1315.9 1369.6,1314.5 1387.9,1313.5 1406.2,1316.9 1424.6,1317.9 1442.9,1314.6 1461.2,1320.6 1479.5,1318.8 1497.9,1317.6 1516.2,1321.4 1534.5,1325.2 1552.9,1320.6 1571.2,1324.4 1589.5,1326.5 1607.8,1322.7 1626.2,1324.7 1644.5,1321.7 1662.8,1321.5 1681.1,1388.1 1699.5,1356.8 1717.8,1343 1736.1,1333.4 1754.5,1331.4 1772.8,1330.5 1791.1,1330.3 1809.4,1327.6 1827.8,1331.4 1846.1,1336.3 1864.4,1334.5 1882.8,1330.9 1901.1,1332.9 1919.4,1335 1937.7,1338.6 1956.1,1337.4 1974.4,1338.1 1992.7,1340.3 2011.1,1338.7 2029.4,1339.2 2047.7,1339.8 2066,1342.7 2084.4,1341.9 2102.7,1347.3 2121,1346.2 2139.3,1349.2 2157.7,1351.2 2176,1353.1 2194.3,1351.9 2212.7,1352.8 2231,1354.6 2249.3,1353.8 2267.6,1357.9 2286,1357.7 2304.3,1358.8 2322.6,1363 2341,1364.7 2359.3,1368.5 2377.6,1370.2 2395.9,1371.8 2414.3,1369.5 2432.6,1372.5 2450.9,1372 2469.3,1379.8 2487.6,1384.9 2505.9,1384.5 2524.2,1383.2 2542.6,1384.8 2560.9,1388.7 2579.2,1391.9 2597.5,1395.4 2615.9,1392.6 2634.2,1395.7 2652.5,1398.3 2670.9,1403.4 2689.2,1402.8 2707.5,1409.1 2725.8,1411.1 2744.2,1411.6 2762.5,1413.8 2780.8,1415.2 2799.2,1415.8 2817.5,1420.9 2835.8,1426.4 2854.1,1429.9 2872.5,1431.2 2890.8,1439.2 2909.1,1444.7 2927.5,1449.8 2945.8,1446.3 2964.1,1444.5 2982.4,1455 3000.8,1460.1 3019.1,1460.2 3037.4,1461.7"/>
<polyline class="ln" stroke="#00BA38" points="306.5,1671.8 324.9,1662.8 343.2,1488.4 361.5,1457.9 379.9,1446.8 398.2,1292.6 416.5,1295 434.8,1289.3 453.2,1290.7 471.5,1283.9 489.8,1284.8 508.2,1287.3 526.5,1287 544.8,1288 563.1,1288.5 581.5,1289.2 599.8,1288.4 618.1,1288.6 636.5,1289 654.8,1289.8 673.1,1290.6 691.4,1291.4 709.8,1290.8 728.1,1290.6 746.4,1292.2 764.7,1291.4 783.1,1290.6 801.4,1292.2 819.7,1292.8 838.1,1292.6 856.4,1293.4 874.7,1292.6 893,1294.6 911.4,1297.6 929.7,1296.5 948,1300.7 966.4,1300.9 984.7,1301.9 1003,1299.9 1021.3,1297.9 1039.7,1298.9 1058,1300.7 1076.3,1299.9 1094.7,1302.9 1113,1309 1131.3,1306.4 1149.6,1303.8 1168,1305.4 1186.3,1302.8 1204.6,1308.1 1222.9,1304.9 1241.3,1306.1 1259.6,1306.9 1277.9,1307.3 1296.3,1310.5 1314.6,1318 1332.9,1313.6 1351.2,1312.6 1369.6,1311.2 1387.9,1310.2 1406.2,1313.7 1424.6,1314.7 1442.9,1311.3 1461.2,1317.3 1479.5,1315.5 1497.9,1314.4 1516.2,1318.2 1534.5,1322 1552.9,1317.4 1571.2,1321.2 1589.5,1323.2 1607.8,1319.5 1626.2,1321.5 1644.5,1318.5 1662.8,1318.3 1681.1,1382.7 1699.5,1352.4 1717.8,1339.5 1736.1,1329.9 1754.5,1327.9 1772.8,1327 1791.1,1326.8 1809.4,1324 1827.8,1327.8 1846.1,1332.7 1864.4,1330.8 1882.8,1327.2 1901.1,1329.2 1919.4,1331.2 1937.7,1334.8 1956.1,1333.6 1974.4,1334.2 1992.7,1336.4 2011.1,1334.8 2029.4,1335.2 2047.7,1335.8 2066,1338.6 2084.4,1337.8 2102.7,1343.2 2121,1342 2139.3,1345 2157.7,1347 2176,1348.8 2194.3,1347.6 2212.7,1348.6 2231,1350.3 2249.3,1349.5 2267.6,1353.6 2286,1353.4 2304.3,1354.5 2322.6,1358.7 2341,1360.5 2359.3,1364.2 2377.6,1366 2395.9,1367.5 2414.3,1365.3 2432.6,1368.2 2450.9,1367.8 2469.3,1375.5 2487.6,1380.7 2505.9,1380.2 2524.2,1379 2542.6,1380.5 2560.9,1384.5 2579.2,1387.6 2597.5,1391.2 2615.9,1388.4 2634.2,1391.5 2652.5,1394.1 2670.9,1399.2 2689.2,1398.6 2707.5,1404.9 2725.8,1406.9 2744.2,1407.3 2762.5,1409.5 2780.8,1410.9 2799.2,1411.5 2817.5,1416.6 2835.8,1422 2854.1,1425.5 2872.5,1426.7 2890.8,1434.8 2909.1,1440.2 2927.5,1445.3 2945.8,1441.7 2964.1,1440 2982.4,1450.4 3000.8,1455.5 3019.1,1455.5 3037.4,1457"/>
<polyline class="ln" stroke="#00C08B" points="306.5,1671.8 324.9,1662.8 343.2,1488.4 361.5,1457.9 379.9,1446.8 398.2,1292.7 416.5,1295 434.8,1289.3 453.2,1290.8 471.5,1284 489.8,1284.9 508.2,1287.4 526.5,1287.1 544.8,1288 563.1,1288.6 581.5,1289.3 599.8,1288.5 618.1,1288.7 636.5,1289.1 654.8,1289.9 673.1,1290.7 691.4,1291.5 709.8,1290.9 728.1,1290.8 746.4,1292.4 764.7,1291.6 783.1,1290.8 801.4,1292.4 819.7,1293 838.1,1292.8 856.4,1293.6 874.7,1292.8 893,1294.8 911.4,1297.8 929.7,1296.7 948,1300.9 966.4,1301.1 984.7,1302.1 1003,1300.1 1021.3,1298.1 1039.7,1299.1 1058,1300.9 1076.3,1300.2 1094.7,1303.2 1113,1309.2 1131.3,1306.6 1149.6,1304 1168,1305.7 1186.3,1303.1 1204.6,1308.3 1222.9,1305.1 1241.3,1306.3 1259.6,1307.2 1277.9,1307.6 1296.3,1310.8 1314.6,1318.2 1332.9,1313.8 1351.2,1312.9 1369.6,1311.5 1387.9,1310.5 1406.2,1313.9 1424.6,1314.9 1442.9,1311.6 1461.2,1317.6 1479.5,1315.8 1497.9,1314.6 1516.2,1318.4 1534.5,1322.3 1552.9,1317.7 1571.2,1321.5 1589.5,1323.5 1607.8,1319.7 1626.2,1321.8 1644.5,1318.8 1662.8,1318.6 1681.1,1383.1 1699.5,1352.7 1717.8,1339.8 1736.1,1330.2 1754.5,1328.2 1772.8,1327.2 1791.1,1327 1809.4,1324.2 1827.8,1328 1846.1,1332.9 1864.4,1331 1882.8,1327.4 1901.1,1329.4 1919.4,1331.4 1937.7,1335 1956.1,1333.8 1974.4,1334.4 1992.7,1336.6 2011.1,1335 2029.4,1335.4 2047.7,1336 2066,1338.8 2084.4,1338 2102.7,1343.4 2121,1342.2 2139.3,1345.2 2157.7,1347.2 2176,1349 2194.3,1347.8 2212.7,1348.8 2231,1350.5 2249.3,1349.7 2267.6,1353.8 2286,1353.6 2304.3,1354.8 2322.6,1358.9 2341,1360.7 2359.3,1364.5 2377.6,1366.2 2395.9,1367.8 2414.3,1365.5 2432.6,1368.5 2450.9,1368 2469.3,1375.8 2487.6,1380.9 2505.9,1380.5 2524.2,1379.3 2542.6,1380.8 2560.9,1384.8 2579.2,1387.9 2597.5,1391.5 2615.9,1388.6 2634.2,1391.8 2652.5,1394.3 2670.9,1399.5 2689.2,1398.8 2707.5,1405.2 2725.8,1407.2 2744.2,1407.6 2762.5,1409.8 2780.8,1411.2 2799.2,1411.8 2817.5,1416.9 2835.8,1422.3 2854.1,1425.8 2872.5,1427 2890.8,1435.1 2909.1,1440.5 2927.5,1445.6 2945.8,1442 2964.1,1440.3 2982.4,1450.7 3000.8,1455.8 3019.1,1455.8 3037.4,1457.3"/>
<polyline class="ln" stroke="#00BFC4" points="306.5,1672.7 324.9,1663.7 343.2,1488.9 361.5,1458.4 379.9,1447.3 398.2,1293.6 416.5,1296.7 434.8,1291 453.2,1292.9 471.5,1285.8 489.8,1286.9 508.2,1289.6 526.5,1289.4 544.8,1290.5 563.1,1291.2 581.5,1292.1 599.8,1291.3 618.1,1291.5 636.5,1291.9 654.8,1292.8 673.1,1293.6 691.4,1294.4 709.8,1293.9 728.1,1293.7 746.4,1295.3 764.7,1294.5 783.1,1293.8 801.4,1295.4 819.7,1296 838.1,1295.9 856.4,1296.7 874.7,1295.9 893,1297.9 911.4,1301 929.7,1299.8 948,1304 966.4,1304.3 984.7,1305.3 1003,1303.3 1021.3,1301.4 1039.7,1302.4 1058,1304.2 1076.3,1303.4 1094.7,1306.4 1113,1312.4 1131.3,1309.8 1149.6,1307.2 1168,1308.9 1186.3,1306.3 1204.6,1311.5 1222.9,1308.3 1241.3,1309.5 1259.6,1310.3 1277.9,1310.7 1296.3,1313.9 1314.6,1321.3 1332.9,1317 1351.2,1316 1369.6,1314.6 1387.9,1313.6 1406.2,1317 1424.6,1318 1442.9,1314.7 1461.2,1320.7 1479.5,1318.9 1497.9,1317.7 1516.2,1321.5 1534.5,1325.3 1552.9,1320.7 1571.2,1324.5 1589.5,1326.5 1607.8,1322.8 1626.2,1324.8 1644.5,1321.8 1662.8,1321.6 1681.1,1388.2 1699.5,1356.9 1717.8,1343.1 1736.1,1333.5 1754.5,1331.5 1772.8,1330.6 1791.1,1330.4 1809.4,1327.6 1827.8,1331.5 1846.1,1336.4 1864.4,1334.6 1882.8,1331 1901.1,1333 1919.4,1335.1 1937.7,1338.7 1956.1,1337.5 1974.4,1338.2 1992.7,1340.4 2011.1,1338.8 2029.4,1339.3 2047.7,1339.9 2066,1342.7 2084.4,1342 2102.7,1347.4 2121,1346.3 2139.3,1349.3 2157.7,1351.3 2176,1353.2 2194.3,1352 2212.7,1352.9 2231,1354.7 2249.3,1353.8 2267.6,1358 2286,1357.7 2304.3,1358.9 2322.6,1363.1 2341,1364.8 2359.3,1368.6 2377.6,1370.3 2395.9,1371.9 2414.3,1369.6 2432.6,1372.6 2450.9,1372.1 2469.3,1379.9 2487.6,1385 2505.9,1384.6 2524.2,1383.3 2542.6,1384.9 2560.9,1388.8 2579.2,1392 2597.5,1395.5 2615.9,1392.7 2634.2,1395.8 2652.5,1398.4 2670.9,1403.5 2689.2,1402.9 2707.5,1409.2 2725.8,1411.2 2744.2,1411.7 2762.5,1413.9 2780.8,1415.3 2799.2,1415.9 2817.5,1421 2835.8,1426.5 2854.1,1430 2872.5,1431.2 2890.8,1439.3 2909.1,1444.8 2927.5,1449.9 2945.8,1446.4 2964.1,1444.6 2982.4,1455.1 3000.8,1460.2 3019.1,1460.3 3037.4,1461.7"/>
<polyline class="ln" stroke="#00B4F0" points="306.5,1671.8 324.9,1662.8 343.2,1488.4 361.5,1457.9 379.9,1446.8 398.2,1292.2 416.5,1294.6 434.8,1288.9 453.2,1290.4 471.5,1283.5 489.8,1284.4 508.2,1287 526.5,1286.7 544.8,1287.6 563.1,1288.1 581.5,1288.8 599.8,1288 618.1,1288.2 636.5,1288.6 654.8,1289.3 673.1,1290.1 691.4,1290.9 709.8,1290.3 728.1,1290.1 746.4,1291.6 764.7,1290.8 783.1,1290 801.4,1291.6 819.7,1292.2 838.1,1291.9 856.4,1292.7 874.7,1291.9 893,1293.9 911.4,1296.9 929.7,1295.6 948,1299.8 966.4,1300 984.7,1301 1003,1299 1021.3,1297 1039.7,1298 1058,1299.8 1076.3,1299 1094.7,1302 1113,1308 1131.3,1305.4 1149.6,1302.8 1168,1304.5 1186.3,1301.9 1204.6,1307.1 1222.9,1303.9 1241.3,1305.1 1259.6,1305.9 1277.9,1306.3 1296.3,1309.5 1314.6,1316.9 1332.9,1312.6 1351.2,1311.6 1369.6,1310.2 1387.9,1309.2 1406.2,1312.6 1424.6,1313.6 1442.9,1310.3 1461.2,1316.3 1479.5,1314.5 1497.9,1313.3 1516.2,1317.1 1534.5,1320.9 1552.9,1316.3 1571.2,1320.1 1589.5,1322.2 1607.8,1318.4 1626.2,1320.4 1644.5,1317.4 1662.8,1317.2 1681.1,1381.1 1699.5,1351 1717.8,1338.4 1736.1,1328.8 1754.5,1326.9 1772.8,1325.9 1791.1,1325.7 1809.4,1322.9 1827.8,1326.7 1846.1,1331.6 1864.4,1329.7 1882.8,1326.2 1901.1,1328.2 1919.4,1330.2 1937.7,1333.8 1956.1,1332.6 1974.4,1333.2 1992.7,1335.4 2011.1,1333.8 2029.4,1334.3 2047.7,1334.9 2066,1337.7 2084.4,1336.9 2102.7,1342.3 2121,1341.1 2139.3,1344.1 2157.7,1346.1 2176,1347.9 2194.3,1346.8 2212.7,1347.7 2231,1349.4 2249.3,1348.6 2267.6,1352.7 2286,1352.5 2304.3,1353.6 2322.6,1357.8 2341,1359.5 2359.3,1363.3 2377.6,1365 2395.9,1366.6 2414.3,1364.3 2432.6,1367.2 2450.9,1366.8 2469.3,1374.5 2487.6,1379.7 2505.9,1379.2 2524.2,1378 2542.6,1379.5 2560.9,1383.4 2579.2,1386.6 2597.5,1390.1 2615.9,1387.3 2634.2,1390.4 2652.5,1393 2670.9,1398.1 2689.2,1397.4 2707.5,1403.8 2725.8,1405.7 2744.2,1406.2 2762.5,1408.3 2780.8,1409.7 2799.2,1410.3 2817.5,1415.4 2835.8,1420.8 2854.1,1424.3 2872.5,1425.5 2890.8,1433.6 2909.1,1439 2927.5,1444 2945.8,1440.5 2964.1,1438.7 2982.4,1449.2 3000.8,1454.2 3019.1,1454.3 3037.4,1455.7"/>
<polyline class="ln" stroke="#619CFF" points="306.5,1667.6 324.9,1658.4 343.2,1484.3 361.5,1452.8 379.9,1442.7 398.2,1283.4 416.5,1284.2 434.8,1279.9 453.2,1282.7 471.5,1276 489.8,1276.9 508.2,1279.4 526.5,1279.1 544.8,1280 563.1,1280.5 581.5,1281.2 599.8,1280.4 618.1,1280.6 636.5,1281 654.8,1281.8 673.1,1282.6 691.4,1283.4 709.8,1282.8 728.1,1282.7 746.4,1284.3 764.7,1283.5 783.1,1282.7 801.4,1284.3 819.7,1284.9 838.1,1284.7 856.4,1285.5 874.7,1284.7 893,1286.7 911.4,1289.7 929.7,1288.6 948,1292.8 966.4,1293 984.7,1294 1003,1292 1021.3,1290 1039.7,1291 1058,1292.8 1076.3,1292 1094.7,1295 1113,1301 1131.3,1298.4 1149.6,1295.8 1168,1297.4 1186.3,1294.8 1204.6,1300 1222.9,1296.8 1241.3,1298 1259.6,1298.8 1277.9,1299.2 1296.3,1302.4 1314.6,1309.8 1332.9,1305.4 1351.2,1304.4 1369.6,1303 1387.9,1302 1406.2,1305.4 1424.6,1306.4 1442.9,1303 1461.2,1309 1479.5,1307.2 1497.9,1306 1516.2,1309.8 1534.5,1313.6 1552.9,1309 1571.2,1312.8 1589.5,1314.8 1607.8,1311 1626.2,1313 1644.5,1310 1662.8,1309.8 1681.1,1369.4 1699.5,1341.4 1717.8,1330.8 1736.1,1321.2 1754.5,1319.2 1772.8,1318.2 1791.1,1318 1809.4,1315.2 1827.8,1318.9 1846.1,1323.8 1864.4,1321.9 1882.8,1318.3 1901.1,1320.3 1919.4,1322.3 1937.7,1325.9 1956.1,1324.7 1974.4,1325.3 1992.7,1327.5 2011.1,1325.9 2029.4,1326.3 2047.7,1326.8 2066,1329.6 2084.4,1328.8 2102.7,1334.2 2121,1333 2139.3,1336 2157.7,1338 2176,1339.8 2194.3,1338.6 2212.7,1339.5 2231,1341.3 2249.3,1340.4 2267.6,1344.6 2286,1344.3 2304.3,1345.5 2322.6,1349.6 2341,1351.4 2359.3,1355.1 2377.6,1356.9 2395.9,1358.4 2414.3,1356.2 2432.6,1359.2 2450.9,1358.7 2469.3,1366.5 2487.6,1371.6 2505.9,1371.2 2524.2,1369.9 2542.6,1371.5 2560.9,1375.4 2579.2,1378.6 2597.5,1382.1 2615.9,1379.3 2634.2,1382.4 2652.5,1385 2670.9,1390.1 2689.2,1389.5 2707.5,1395.8 2725.8,1397.8 2744.2,1398.2 2762.5,1400.4 2780.8,1401.7 2799.2,1402.4 2817.5,1407.4 2835.8,1412.9 2854.1,1416.3 2872.5,1417.6 2890.8,1425.6 2909.1,1431 2927.5,1436.1 2945.8,1432.5 2964.1,1430.8 2982.4,1441.2 3000.8,1446.3 3019.1,1446.3 3037.4,1447.8"/>
<polyline class="ln" stroke="#C77CFF" points="306.5,1671.3 324.9,1662.1 343.2,1486.2 361.5,1455.2 379.9,1444.6 398.2,1289.3 416.5,1290.5 434.8,1285.1 453.2,1286.4 471.5,1279.4 489.8,1280.2 508.2,1282.6 526.5,1282.2 544.8,1283 563.1,1283.4 581.5,1284.1 599.8,1283.2 618.1,1283.4 636.5,1283.7 654.8,1284.5 673.1,1285.3 691.4,1286 709.8,1285.4 728.1,1285.1 746.4,1286.7 764.7,1285.9 783.1,1285 801.4,1286.6 819.7,1287.1 838.1,1286.9 856.4,1287.6 874.7,1286.8 893,1288.8 911.4,1291.7 929.7,1290.5 948,1294.6 966.4,1294.8 984.7,1295.8 1003,1293.7 1021.3,1291.7 1039.7,1292.7 1058,1294.5 1076.3,1293.7 1094.7,1296.7 1113,1302.8 1131.3,1300.2 1149.6,1297.6 1168,1299.2 1186.3,1296.6 1204.6,1301.8 1222.9,1298.6 1241.3,1299.9 1259.6,1300.7 1277.9,1301.1 1296.3,1304.3 1314.6,1311.7 1332.9,1307.3 1351.2,1306.3 1369.6,1305 1387.9,1304 1406.2,1307.4 1424.6,1308.4 1442.9,1305 1461.2,1311 1479.5,1309.3 1497.9,1308.1 1516.2,1311.9 1534.5,1315.7 1552.9,1311.1 1571.2,1314.9 1589.5,1316.9 1607.8,1313.2 1626.2,1315.2 1644.5,1312.2 1662.8,1312 1681.1,1373.2 1699.5,1344.4 1717.8,1333 1736.1,1323.4 1754.5,1321.4 1772.8,1320.4 1791.1,1320.2 1809.4,1317.4 1827.8,1321.2 1846.1,1326.1 1864.4,1324.2 1882.8,1320.6 1901.1,1322.6 1919.4,1324.6 1937.7,1328.2 1956.1,1327 1974.4,1327.6 1992.7,1329.8 2011.1,1328.2 2029.4,1328.6 2047.7,1329.2 2066,1332 2084.4,1331.2 2102.7,1336.6 2121,1335.4 2139.3,1338.4 2157.7,1340.4 2176,1342.2 2194.3,1341 2212.7,1342 2231,1343.7 2249.3,1342.9 2267.6,1347.1 2286,1346.8 2304.3,1348 2322.6,1352.2 2341,1354 2359.3,1357.7 2377.6,1359.5 2395.9,1361.1 2414.3,1358.8 2432.6,1361.8 2450.9,1361.4 2469.3,1369.1 2487.6,1374.3 2505.9,1373.8 2524.2,1372.6 2542.6,1374.2 2560.9,1378.1 2579.2,1381.3 2597.5,1384.9 2615.9,1382 2634.2,1385.2 2652.5,1387.8 2670.9,1392.9 2689.2,1392.3 2707.5,1398.7 2725.8,1400.6 2744.2,1401.2 2762.5,1403.6 2780.8,1405.1 2799.2,1405.9 2817.5,1411.1 2835.8,1416.7 2854.1,1420.3 2872.5,1421.7 2890.8,1429.9 2909.1,1435.5 2927.5,1440.6 2945.8,1437.2 2964.1,1435.6 2982.4,1446.2 3000.8,1451.4 3019.1,1451.6 3037.4,1453.2"/>
<polyline class="ln" stroke="#F564E3" points="306.5,1671.8 324.9,1662.6 343.2,1486.6 361.5,1455.6 379.9,1445 398.2,1289.9 416.5,1291.3 434.8,1286 453.2,1287.4 471.5,1280.3 489.8,1281.1 508.2,1283.5 526.5,1283.1 544.8,1284 563.1,1284.4 581.5,1285 599.8,1284.2 618.1,1284.3 636.5,1284.7 654.8,1285.4 673.1,1286.1 691.4,1286.9 709.8,1286.2 728.1,1286 746.4,1287.5 764.7,1286.7 783.1,1285.8 801.4,1287.4 819.7,1287.9 838.1,1287.7 856.4,1288.4 874.7,1287.6 893,1289.5 911.4,1292.4 929.7,1291.2 948,1295.3 966.4,1295.5 984.7,1296.4 1003,1294.4 1021.3,1292.3 1039.7,1293.3 1058,1295.2 1076.3,1294.4 1094.7,1297.4 1113,1303.4 1131.3,1300.8 1149.6,1298.3 1168,1299.9 1186.3,1297.3 1204.6,1302.5 1222.9,1299.3 1241.3,1300.6 1259.6,1301.4 1277.9,1301.8 1296.3,1305 1314.6,1312.4 1332.9,1308 1351.2,1307.1 1369.6,1305.7 1387.9,1304.7 1406.2,1308.1 1424.6,1309.2 1442.9,1305.8 1461.2,1311.8 1479.5,1310 1497.9,1308.8 1516.2,1312.7 1534.5,1316.5 1552.9,1311.9 1571.2,1315.7 1589.5,1317.7 1607.8,1313.9 1626.2,1316 1644.5,1313 1662.8,1312.8 1681.1,1374.6 1699.5,1345.4 1717.8,1333.8 1736.1,1324.2 1754.5,1322.2 1772.8,1321.2 1791.1,1321 1809.4,1318.2 1827.8,1322 1846.1,1326.9 1864.4,1325 1882.8,1321.4 1901.1,1323.4 1919.4,1325.4 1937.7,1329 1956.1,1327.8 1974.4,1328.4 1992.7,1330.6 2011.1,1329 2029.4,1329.4 2047.7,1330 2066,1332.8 2084.4,1332 2102.7,1337.4 2121,1336.2 2139.3,1339.2 2157.7,1341.2 2176,1343 2194.3,1341.8 2212.7,1342.8 2231,1344.5 2249.3,1343.7 2267.6,1347.8 2286,1347.6 2304.3,1348.8 2322.6,1352.9 2341,1354.7 2359.3,1358.4 2377.6,1360.2 2395.9,1361.7 2414.3,1359.5 2432.6,1362.5 2450.9,1362 2469.3,1369.8 2487.6,1374.9 2505.9,1374.5 2524.2,1373.2 2542.6,1374.8 2560.9,1378.7 2579.2,1381.9 2597.5,1385.5 2615.9,1382.6 2634.2,1385.8 2652.5,1388.3 2670.9,1393.5 2689.2,1392.8 2707.5,1399.2 2725.8,1401.1 2744.2,1401.7 2762.5,1404.1 2780.8,1405.6 2799.2,1406.4 2817.5,1411.6 2835.8,1417.2 2854.1,1420.8 2872.5,1422.2 2890.8,1430.4 2909.1,1435.9 2927.5,1441.1 2945.8,1437.7 2964.1,1436.1 2982.4,1446.7 3000.8,1451.9 3019.1,1452.1 3037.4,1453.7"/>
<polyline class="ln" stroke="#FF64B0" points="306.5,1669.9 324.9,1660.7 343.2,1485.2 361.5,1454 379.9,1443.6 398.2,1287.6 416.5,1288.1 434.8,1282.4 453.2,1283.7 471.5,1276.6 489.8,1277.4 508.2,1279.8 526.5,1279.4 544.8,1280.2 563.1,1280.6 581.5,1281.2 599.8,1280.4 618.1,1280.6 636.5,1281 654.8,1281.8 673.1,1282.6 691.4,1283.4 709.8,1282.8 728.1,1282.6 746.4,1284.2 764.7,1283.4 783.1,1282.6 801.4,1284.2 819.7,1284.8 838.1,1284.6 856.4,1285.4 874.7,1284.6 893,1286.6 911.4,1289.6 929.7,1288.4 948,1292.6 966.4,1292.8 984.7,1293.8 1003,1291.8 1021.3,1289.8 1039.7,1290.8 1058,1292.6 1076.3,1291.8 1094.7,1294.8 1113,1300.8 1131.3,1298.2 1149.6,1295.6 1168,1297.2 1186.3,1294.6 1204.6,1299.8 1222.9,1296.6 1241.3,1297.8 1259.6,1298.6 1277.9,1299 1296.3,1302.2 1314.6,1309.6 1332.9,1305.2 1351.2,1304.2 1369.6,1302.8 1387.9,1301.8 1406.2,1305.2 1424.6,1306.2 1442.9,1302.8 1461.2,1308.8 1479.5,1307 1497.9,1305.8 1516.2,1309.6 1534.5,1313.4 1552.9,1308.8 1571.2,1312.6 1589.5,1314.6 1607.8,1310.8 1626.2,1312.8 1644.5,1309.8 1662.8,1309.6 1681.1,1369.2 1699.5,1341.1 1717.8,1330.6 1736.1,1321 1754.5,1319 1772.8,1318 1791.1,1317.8 1809.4,1315 1827.8,1318.8 1846.1,1323.7 1864.4,1321.8 1882.8,1318.2 1901.1,1320.2 1919.4,1322.2 1937.7,1325.8 1956.1,1324.6 1974.4,1325.2 1992.7,1327.4 2011.1,1325.8 2029.4,1326.2 2047.7,1326.8 2066,1329.6 2084.4,1328.8 2102.7,1334.2 2121,1333 2139.3,1336 2157.7,1338 2176,1339.8 2194.3,1338.6 2212.7,1339.6 2231,1341.4 2249.3,1340.6 2267.6,1344.8 2286,1344.6 2304.3,1345.8 2322.6,1350 2341,1351.8 2359.3,1355.6 2377.6,1357.4 2395.9,1359 2414.3,1356.8 2432.6,1359.8 2450.9,1359.4 2469.3,1367.2 2487.6,1372.4 2505.9,1372 2524.2,1370.8 2542.6,1372.4 2560.9,1376.4 2579.2,1379.6 2597.5,1383.2 2615.9,1380.4 2634.2,1383.6 2652.5,1386.2 2670.9,1391.4 2689.2,1390.8 2707.5,1397.1 2725.8,1399.1 2744.2,1399.7 2762.5,1402.1 2780.8,1403.6 2799.2,1404.4 2817.5,1409.6 2835.8,1415.2 2854.1,1418.8 2872.5,1420.2 2890.8,1428.4 2909.1,1434 2927.5,1439.2 2945.8,1435.8 2964.1,1434.2 2982.4,1444.7 3000.8,1449.9 3019.1,1450.1 3037.4,1451.7"/>
<text class="st" text-anchor="middle" x="1672" y="1204.86">Read_2_After_filtering</text>
<text class="at" text-anchor="end" x="149.4" y="1622.41">32.5</text>
<text class="at" text-anchor="end" x="149.4" y="1506.66">35.0</text>
<text class="at" text-anchor="end" x="149.4" y="1390.91">37.5</text>
<text class="at" text-anchor="end" x="149.4" y="1275.16">40.0</text>
</g>
<g>
<path class="gm" d="M170 2234.12H3174M170 2118.37H3174M170 2002.62H3174M170 1886.87H3174M746.42 1793.59V2267.29M1662.82 1793.59V2267.29M2579.22 1793.59V2267.29"/>
<path class="gM" d="M170 2176.24H3174M170 2060.49H3174M170 1944.74H3174M170 1828.99H3174M288.22 1793.59V2267.29M1204.62 1793.59V2267.29M2121.02 1793.59V2267.29M3037.42 1793.59V2267.29"/>
<polyline class="ln" stroke="#F8766D" points="306.5,2242 324.9,2233.4 343.2,2058.9 361.5,2029 379.9,2018 398.2,1864.7 416.5,1867.9 434.8,1863 453.2,1864.7 471.5,1857.9 489.8,1858.6 508.2,1861.1 526.5,1860.7 544.8,1861.6 563.1,1861.9 581.5,1863 599.8,1862.4 618.1,1862.6 636.5,1863 654.8,1863.9 673.1,1864.7 691.4,1865.7 709.8,1865.1 728.1,1864.8 746.4,1866.4 764.7,1865.8 783.1,1865 801.4,1866.9 819.7,1867.5 838.1,1867.3 856.4,1868.1 874.7,1867.4 893,1869.4 911.4,1872.6 929.7,1871.7 948,1876.5 966.4,1876.7 984.7,1877.9 1003,1875.9 1021.3,1873.9 1039.7,1874.8 1058,1876.8 1076.3,1876.2 1094.7,1879 1113,1885 1131.3,1882.3 1149.6,1879.7 1168,1881.3 1186.3,1878.9 1204.6,1884.1 1222.9,1880.8 1241.3,1882.4 1259.6,1883.2 1277.9,1883.8 1296.3,1886.8 1314.6,1894.3 1332.9,1890.3 1351.2,1889.3 1369.6,1887.9 1387.9,1887.1 1406.2,1890.4 1424.6,1891.4 1442.9,1888.2 1461.2,1894 1479.5,1892.5 1497.9,1890.7 1516.2,1894.7 1534.5,1898.5 1552.9,1894.1 1571.2,1898.2 1589.5,1900.2 1607.8,1896.2 1626.2,1898.2 1644.5,1895.6 1662.8,1895.2 1681.1,1958.1 1699.5,1928.3 1717.8,1916.4 1736.1,1906.8 1754.5,1904.8 1772.8,1903.8 1791.1,1903.8 1809.4,1900.8 1827.8,1904.8 1846.1,1909.6 1864.4,1907.4 1882.8,1904.2 1901.1,1906.2 1919.4,1908.4 1937.7,1911.8 1956.1,1910.5 1974.4,1911.3 1992.7,1913.3 2011.1,1912.1 2029.4,1912.7 2047.7,1913.1 2066,1916.1 2084.4,1915.1 2102.7,1920.5 2121,1919.3 2139.3,1922.6 2157.7,1924.6 2176,1926 2194.3,1925.2 2212.7,1926.2 2231,1928.1 2249.3,1927.6 2267.6,1931.4 2286,1931.3 2304.3,1932.8 2322.6,1937.2 2341,1939.4 2359.3,1943.5 2377.6,1945.5 2395.9,1947.6 2414.3,1945.3 2432.6,1948.5 2450.9,1948.2 2469.3,1956.4 2487.6,1961.9 2505.9,1961.4 2524.2,1960.5 2542.6,1962.3 2560.9,1966.8 2579.2,1969.7 2597.5,1973.6 2615.9,1970.5 2634.2,1974.1 2652.5,1976.6 2670.9,1981.7 2689.2,1981.4 2707.5,1988.5 2725.8,1991.2 2744.2,1992.2 2762.5,1994.2 2780.8,1995.6 2799.2,1996.4 2817.5,2001.9 2835.8,2007.5 2854.1,2010.6 2872.5,2012.2 2890.8,2020.5 2909.1,2026.1 2927.5,2031.8 2945.8,2029.2 2964.1,2027.3 2982.4,2038.3 3000.8,2043.6 3019.1,2043.6 3037.4,2046.1"/>
<polyline class="ln" stroke="#DE8C00" points="306.5,2243.3 324.9,2234.9 343.2,2061 361.5,2031.2 379.9,2020.1 398.2,1868.2 416.5,1872.4 434.8,1867.4 453.2,1869.4 471.5,1861.9 489.8,1862.9 508.2,1865.7 526.5,1865.6 544.8,1866.8 563.1,1867.4 581.5,1868.8 599.8,1868.4 618.1,1868.7 636.5,1869.2 654.8,1870.2 673.1,1871.1 691.4,1872.3 709.8,1871.8 728.1,1871.6 746.4,1873.3 764.7,1872.9 783.1,1872.2 801.4,1874.2 819.7,1874.9 838.1,1874.8 856.4,1875.8 874.7,1875.1 893,1877.3 911.4,1880.6 929.7,1879.9 948,1884.6 966.4,1884.8 984.7,1886.1 1003,1884.1 1021.3,1882.1 1039.7,1882.9 1058,1885 1076.3,1884.4 1094.7,1887.2 1113,1893.2 1131.3,1890.5 1149.6,1887.9 1168,1889.5 1186.3,1887.1 1204.6,1892.4 1222.9,1889 1241.3,1890.6 1259.6,1891.5 1277.9,1892.1 1296.3,1895.1 1314.6,1902.5 1332.9,1898.6 1351.2,1897.6 1369.6,1896.2 1387.9,1895.3 1406.2,1898.7 1424.6,1899.7 1442.9,1896.5 1461.2,1902.3 1479.5,1900.8 1497.9,1899 1516.2,1903 1534.5,1906.8 1552.9,1902.5 1571.2,1906.5 1589.5,1908.5 1607.8,1904.5 1626.2,1906.5 1644.5,1903.9 1662.8,1903.5 1681.1,1968.6 1699.5,1938.2 1717.8,1925.7 1736.1,1916.1 1754.5,1914 1772.8,1912.9 1791.1,1912.8 1809.4,1909.8 1827.8,1913.7 1846.1,1918.4 1864.4,1916.2 1882.8,1912.9 1901.1,1914.8 1919.4,1916.9 1937.7,1920.2 1956.1,1919 1974.4,1919.7 1992.7,1921.6 2011.1,1920.3 2029.4,1920.9 2047.7,1921.2 2066,1924.1 2084.4,1923 2102.7,1928.3 2121,1927.1 2139.3,1930.4 2157.7,1932.3 2176,1933.6 2194.3,1932.8 2212.7,1933.7 2231,1935.7 2249.3,1935.2 2267.6,1939 2286,1938.9 2304.3,1940.4 2322.6,1944.8 2341,1947 2359.3,1951.1 2377.6,1953.1 2395.9,1955.2 2414.3,1953 2432.6,1956.1 2450.9,1955.9 2469.3,1964 2487.6,1969.6 2505.9,1969.1 2524.2,1968.3 2542.6,1970 2560.9,1974.6 2579.2,1977.5 2597.5,1981.5 2615.9,1978.4 2634.2,1982 2652.5,1984.5 2670.9,1989.7 2689.2,1989.4 2707.5,1996.6 2725.8,1999 2744.2,1999.8 2762.5,2001.6 2780.8,2002.7 2799.2,2003.3 2817.5,2008.6 2835.8,2014 2854.1,2016.8 2872.5,2018.2 2890.8,2026.3 2909.1,2031.7 2927.5,2037.1 2945.8,2034.3 2964.1,2032.2 2982.4,2043 3000.8,2048 3019.1,2047.8 3037.4,2050.1"/>
<polyline class="ln" stroke="#B79F00" points="306.5,2243.5 324.9,2235.1 343.2,2061.2 361.5,2031.4 379.9,2020.3 398.2,1868.6 416.5,1872.8 434.8,1867.8 453.2,1869.8 471.5,1862.1 489.8,1863.1 508.2,1865.8 526.5,1865.8 544.8,1867 563.1,1867.6 581.5,1869 599.8,1868.5 618.1,1868.9 636.5,1869.4 654.8,1870.4 673.1,1871.3 691.4,1872.5 709.8,1872 728.1,1871.8 746.4,1873.5 764.7,1873 783.1,1872.4 801.4,1874.3 819.7,1875.1 838.1,1875 856.4,1876 874.7,1875.3 893,1877.5 911.4,1880.8 929.7,1880.1 948,1884.8 966.4,1885 984.7,1886.2 1003,1884.3 1021.3,1882.3 1039.7,1883.1 1058,1885.1 1076.3,1884.6 1094.7,1887.4 1113,1893.4 1131.3,1890.7 1149.6,1888.1 1168,1889.7 1186.3,1887.3 1204.6,1892.6 1222.9,1889.2 1241.3,1890.8 1259.6,1891.6 1277.9,1892.3 1296.3,1895.3 1314.6,1902.7 1332.9,1898.7 1351.2,1897.8 1369.6,1896.4 1387.9,1895.5 1406.2,1898.8 1424.6,1899.9 1442.9,1896.7 1461.2,1902.5 1479.5,1901 1497.9,1899.2 1516.2,1903.2 1534.5,1907 1552.9,1902.7 1571.2,1906.7 1589.5,1908.7 1607.8,1904.7 1626.2,1906.7 1644.5,1904.1 1662.8,1903.7 1681.1,1968.7 1699.5,1938.4 1717.8,1925.9 1736.1,1916.3 1754.5,1914.2 1772.8,1913.1 1791.1,1913 1809.4,1910 1827.8,1913.9 1846.1,1918.6 1864.4,1916.3 1882.8,1913.1 1901.1,1915 1919.4,1917.1 1937.7,1920.4 1956.1,1919.2 1974.4,1919.9 1992.7,1921.8 2011.1,1920.5 2029.4,1921 2047.7,1921.4 2066,1924.3 2084.4,1923.2 2102.7,1928.5 2121,1927.3 2139.3,1930.6 2157.7,1932.5 2176,1933.8 2194.3,1932.9 2212.7,1933.9 2231,1935.8 2249.3,1935.4 2267.6,1939.1 2286,1939.1 2304.3,1940.6 2322.6,1945 2341,1947.2 2359.3,1951.3 2377.6,1953.3 2395.9,1955.4 2414.3,1953.2 2432.6,1956.3 2450.9,1956.1 2469.3,1964.2 2487.6,1969.8 2505.9,1969.3 2524.2,1968.5 2542.6,1970.2 2560.9,1974.8 2579.2,1977.7 2597.5,1981.7 2615.9,1978.6 2634.2,1982.2 2652.5,1984.7 2670.9,1989.8 2689.2,1989.6 2707.5,1996.7 2725.8,1999.2 2744.2,2000 2762.5,2001.7 2780.8,2002.9 2799.2,2003.5 2817.5,2008.7 2835.8,2014.2 2854.1,2017 2872.5,2018.4 2890.8,2026.4 2909.1,2031.9 2927.5,2037.3 2945.8,2034.5 2964.1,2032.3 2982.4,2043.2 3000.8,2048.2 3019.1,2048 3037.4,2050.2"/>
<polyline class="ln" stroke="#7CAE00" points="306.5,2243.4 324.9,2235 343.2,2061.1 361.5,2031.3 379.9,2020.2 398.2,1868.3 416.5,1872.4 434.8,1867.5 453.2,1869.5 471.5,1862 489.8,1863 508.2,1865.8 526.5,1865.7 544.8,1866.9 563.1,1867.5 581.5,1868.9 599.8,1868.4 618.1,1868.8 636.5,1869.3 654.8,1870.3 673.1,1871.2 691.4,1872.4 709.8,1871.9 728.1,1871.7 746.4,1873.4 764.7,1873 783.1,1872.3 801.4,1874.2 819.7,1875 838.1,1874.9 856.4,1875.9 874.7,1875.2 893,1877.4 911.4,1880.7 929.7,1880 948,1884.7 966.4,1884.9 984.7,1886.1 1003,1884.2 1021.3,1882.2 1039.7,1883 1058,1885.1 1076.3,1884.5 1094.7,1887.3 1113,1893.3 1131.3,1890.6 1149.6,1888 1168,1889.6 1186.3,1887.2 1204.6,1892.5 1222.9,1889.1 1241.3,1890.7 1259.6,1891.5 1277.9,1892.2 1296.3,1895.2 1314.6,1902.6 1332.9,1898.6 1351.2,1897.7 1369.6,1896.3 1387.9,1895.4 1406.2,1898.8 1424.6,1899.8 1442.9,1896.6 1461.2,1902.4 1479.5,1900.9 1497.9,1899.1 1516.2,1903.1 1534.5,1906.9 1552.9,1902.6 1571.2,1906.6 1589.5,1908.6 1607.8,1904.6 1626.2,1906.6 1644.5,1904 1662.8,1903.6 1681.1,1968.7 1699.5,1938.3 1717.8,1925.8 1736.1,1916.2 1754.5,1914.1 1772.8,1913 1791.1,1912.9 1809.4,1909.9 1827.8,1913.8 1846.1,1918.5 1864.4,1916.2 1882.8,1913 1901.1,1914.9 1919.4,1917 1937.7,1920.3 1956.1,1919.1 1974.4,1919.8 1992.7,1921.7 2011.1,1920.4 2029.4,1921 2047.7,1921.3 2066,1924.2 2084.4,1923.1 2102.7,1928.4 2121,1927.2 2139.3,1930.5 2157.7,1932.4 2176,1933.7 2194.3,1932.9 2212.7,1933.8 2231,1935.8 2249.3,1935.3 2267.6,1939.1 2286,1939 2304.3,1940.5 2322.6,1944.9 2341,1947.1 2359.3,1951.2 2377.6,1953.2 2395.9,1955.3 2414.3,1953.1 2432.6,1956.2 2450.9,1956 2469.3,1964.1 2487.6,1969.7 2505.9,1969.2 2524.2,1968.4 2542.6,1970.1 2560.9,1974.7 2579.2,1977.6 2597.5,1981.6 2615.9,1978.5 2634.2,1982.1 2652.5,1984.6 2670.9,1989.8 2689.2,1989.5 2707.5,1996.6 2725.8,1999.1 2744.2,1999.9 2762.5,2001.6 2780.8,2002.8 2799.2,2003.4 2817.5,2008.6 2835.8,2014.1 2854.1,2016.9 2872.5,2018.3 2890.8,2026.3 2909.1,2031.8 2927.5,2037.2 2945.8,2034.4 2964.1,2032.3 2982.4,2043.1 3000.8,2048.1 3019.1,2047.9 3037.4,2050.1"/>
<polyline class="ln" stroke="#00BA38" points="306.5,2241.6 324.9,2233.2 343.2,2060.8 361.5,2030.9 379.9,2019.8 398.2,1866 416.5,1869.6 434.8,1864.6 453.2,1866.4 471.5,1859.6 489.8,1860.4 508.2,1863 526.5,1862.9 544.8,1863.9 563.1,1864.3 581.5,1865.6 599.8,1865 618.1,1865.3 636.5,1865.7 654.8,1866.6 673.1,1867.4 691.4,1868.5 709.8,1867.9 728.1,1867.6 746.4,1869.2 764.7,1868.6 783.1,1867.9 801.4,1869.7 819.7,1870.4 838.1,1870.2 856.4,1871.1 874.7,1870.3 893,1872.4 911.4,1875.6 929.7,1874.8 948,1879.5 966.4,1879.7 984.7,1881 1003,1879 1021.3,1877 1039.7,1877.8 1058,1879.9 1076.3,1879.3 1094.7,1882.1 1113,1888.1 1131.3,1885.3 1149.6,1882.8 1168,1884.4 1186.3,1882 1204.6,1887.2 1222.9,1883.9 1241.3,1885.5 1259.6,1886.3 1277.9,1886.9 1296.3,1890 1314.6,1897.4 1332.9,1893.4 1351.2,1892.4 1369.6,1891 1387.9,1890.2 1406.2,1893.5 1424.6,1894.5 1442.9,1891.4 1461.2,1897.2 1479.5,1895.6 1497.9,1893.8 1516.2,1897.8 1534.5,1901.7 1552.9,1897.3 1571.2,1901.3 1589.5,1903.3 1607.8,1899.3 1626.2,1901.3 1644.5,1898.7 1662.8,1898.3 1681.1,1962 1699.5,1932.3 1717.8,1920.5 1736.1,1910.8 1754.5,1908.8 1772.8,1907.7 1791.1,1907.6 1809.4,1904.6 1827.8,1908.5 1846.1,1913.3 1864.4,1911 1882.8,1907.7 1901.1,1909.7 1919.4,1911.8 1937.7,1915.2 1956.1,1913.9 1974.4,1914.6 1992.7,1916.6 2011.1,1915.3 2029.4,1915.8 2047.7,1916.2 2066,1919.1 2084.4,1918.1 2102.7,1923.4 2121,1922.1 2139.3,1925.5 2157.7,1927.4 2176,1928.7 2194.3,1927.9 2212.7,1928.8 2231,1930.8 2249.3,1930.3 2267.6,1934 2286,1934 2304.3,1935.4 2322.6,1939.9 2341,1942 2359.3,1946.2 2377.6,1948.1 2395.9,1950.3 2414.3,1948 2432.6,1951.2 2450.9,1950.9 2469.3,1959 2487.6,1964.6 2505.9,1964.1 2524.2,1963.2 2542.6,1964.9 2560.9,1969.4 2579.2,1972.3 2597.5,1976.2 2615.9,1973.1 2634.2,1976.7 2652.5,1979.2 2670.9,1984.3 2689.2,1984 2707.5,1991.1 2725.8,1993.7 2744.2,1994.7 2762.5,1996.6 2780.8,1998 2799.2,1998.8 2817.5,2004.2 2835.8,2009.8 2854.1,2012.8 2872.5,2014.4 2890.8,2022.6 2909.1,2028.2 2927.5,2033.8 2945.8,2031.2 2964.1,2029.2 2982.4,2040.2 3000.8,2045.4 3019.1,2045.4 3037.4,2047.8"/>
<polyline class="ln" stroke="#00C08B" points="306.5,2241.6 324.9,2233.2 343.2,2060.8 361.5,2030.9 379.9,2019.8 398.2,1866.1 416.5,1869.8 434.8,1864.8 453.2,1866.6 471.5,1859.8 489.8,1860.6 508.2,1863.2 526.5,1863.1 544.8,1864.1 563.1,1864.5 581.5,1865.7 599.8,1865.2 618.1,1865.4 636.5,1865.9 654.8,1866.7 673.1,1867.6 691.4,1868.6 709.8,1868.1 728.1,1867.7 746.4,1869.4 764.7,1868.8 783.1,1868.1 801.4,1869.9 819.7,1870.6 838.1,1870.4 856.4,1871.3 874.7,1870.5 893,1872.6 911.4,1875.8 929.7,1875 948,1879.7 966.4,1879.9 984.7,1881.1 1003,1879.2 1021.3,1877.2 1039.7,1878 1058,1880.1 1076.3,1879.5 1094.7,1882.3 1113,1888.3 1131.3,1885.6 1149.6,1883 1168,1884.6 1186.3,1882.2 1204.6,1887.5 1222.9,1884.1 1241.3,1885.7 1259.6,1886.5 1277.9,1887.2 1296.3,1890.2 1314.6,1897.6 1332.9,1893.6 1351.2,1892.7 1369.6,1891.3 1387.9,1890.4 1406.2,1893.8 1424.6,1894.8 1442.9,1891.6 1461.2,1897.4 1479.5,1895.9 1497.9,1894.1 1516.2,1898.1 1534.5,1901.9 1552.9,1897.6 1571.2,1901.6 1589.5,1903.6 1607.8,1899.6 1626.2,1901.6 1644.5,1899 1662.8,1898.6 1681.1,1962.3 1699.5,1932.6 1717.8,1920.8 1736.1,1911.2 1754.5,1909.1 1772.8,1908.1 1791.1,1908 1809.4,1905 1827.8,1908.9 1846.1,1913.7 1864.4,1911.4 1882.8,1908.1 1901.1,1910.1 1919.4,1912.2 1937.7,1915.6 1956.1,1914.3 1974.4,1915.1 1992.7,1917 2011.1,1915.7 2029.4,1916.3 2047.7,1916.6 2066,1919.6 2084.4,1918.5 2102.7,1923.9 2121,1922.6 2139.3,1925.9 2157.7,1927.9 2176,1929.2 2194.3,1928.4 2212.7,1929.3 2231,1931.3 2249.3,1930.8 2267.6,1934.6 2286,1934.5 2304.3,1936 2322.6,1940.4 2341,1942.6 2359.3,1946.7 2377.6,1948.7 2395.9,1950.8 2414.3,1948.6 2432.6,1951.7 2450.9,1951.4 2469.3,1959.6 2487.6,1965.1 2505.9,1964.7 2524.2,1963.8 2542.6,1965.5 2560.9,1970 2579.2,1972.9 2597.5,1976.9 2615.9,1973.8 2634.2,1977.3 2652.5,1979.8 2670.9,1984.9 2689.2,1984.7 2707.5,1991.8 2725.8,1994.4 2744.2,1995.4 2762.5,1997.3 2780.8,1998.6 2799.2,1999.4 2817.5,2004.7 2835.8,2010.3 2854.1,2013.3 2872.5,2014.9 2890.8,2023.1 2909.1,2028.7 2927.5,2034.2 2945.8,2031.6 2964.1,2029.6 2982.4,2040.6 3000.8,2045.8 3019.1,2045.8 3037.4,2048.2"/>
<polyline class="ln" stroke="#00BFC4" points="306.5,2242.9 324.9,2234.6 343.2,2061.2 361.5,2031.4 379.9,2020.3 398.2,1867.5 416.5,1871.6 434.8,1866.7 453.2,1868.6 471.5,1862.1 489.8,1863.1 508.2,1865.8 526.5,1865.8 544.8,1867 563.1,1867.6 581.5,1869 599.8,1868.5 618.1,1868.9 636.5,1869.4 654.8,1870.4 673.1,1871.3 691.4,1872.5 709.8,1872 728.1,1871.8 746.4,1873.5 764.7,1873 783.1,1872.4 801.4,1874.3 819.7,1875.1 838.1,1875 856.4,1876 874.7,1875.3 893,1877.5 911.4,1880.8 929.7,1880.1 948,1884.8 966.4,1885 984.7,1886.2 1003,1884.3 1021.3,1882.3 1039.7,1883.1 1058,1885.1 1076.3,1884.6 1094.7,1887.4 1113,1893.4 1131.3,1890.7 1149.6,1888.1 1168,1889.7 1186.3,1887.3 1204.6,1892.6 1222.9,1889.2 1241.3,1890.8 1259.6,1891.6 1277.9,1892.3 1296.3,1895.3 1314.6,1902.7 1332.9,1898.7 1351.2,1897.8 1369.6,1896.4 1387.9,1895.5 1406.2,1898.8 1424.6,1899.9 1442.9,1896.7 1461.2,1902.5 1479.5,1901 1497.9,1899.2 1516.2,1903.2 1534.5,1907 1552.9,1902.7 1571.2,1906.7 1589.5,1908.7 1607.8,1904.7 1626.2,1906.7 1644.5,1904.1 1662.8,1903.7 1681.1,1968.7 1699.5,1938.4 1717.8,1925.9 1736.1,1916.3 1754.5,1914.2 1772.8,1913.1 1791.1,1913 1809.4,1910 1827.8,1913.9 1846.1,1918.6 1864.4,1916.3 1882.8,1913.1 1901.1,1915 1919.4,1917.1 1937.7,1920.4 1956.1,1919.2 1974.4,1919.9 1992.7,1921.8 2011.1,1920.5 2029.4,1921 2047.7,1921.4 2066,1924.3 2084.4,1923.2 2102.7,1928.5 2121,1927.3 2139.3,1930.6 2157.7,1932.5 2176,1933.8 2194.3,1932.9 2212.7,1933.9 2231,1935.8 2249.3,1935.4 2267.6,1939.1 2286,1939.1 2304.3,1940.6 2322.6,1945 2341,1947.2 2359.3,1951.3 2377.6,1953.3 2395.9,1955.4 2414.3,1953.2 2432.6,1956.3 2450.9,1956.1 2469.3,1964.2 2487.6,1969.8 2505.9,1969.3 2524.2,1968.5 2542.6,1970.2 2560.9,1974.8 2579.2,1977.7 2597.5,1981.7 2615.9,1978.6 2634.2,1982.2 2652.5,1984.7 2670.9,1989.8 2689.2,1989.6 2707.5,1996.7 2725.8,1999.2 2744.2,2000 2762.5,2001.7 2780.8,2002.9 2799.2,2003.5 2817.5,2008.7 2835.8,2014.2 2854.1,2017 2872.5,2018.4 2890.8,2026.4 2909.1,2031.9 2927.5,2037.3 2945.8,2034.5 2964.1,2032.3 2982.4,2043.2 3000.8,2048.2 3019.1,2048 3037.4,2050.2"/>
<polyline class="ln" stroke="#00B4F0" points="306.5,2241.6 324.9,2233.2 343.2,2060.8 361.5,2030.9 379.9,2019.8 398.2,1865.6 416.5,1868.8 434.8,1863.9 453.2,1865.6 471.5,1858.8 489.8,1859.7 508.2,1862.3 526.5,1862.1 544.8,1863.2 563.1,1863.6 581.5,1864.8 599.8,1864.3 618.1,1864.5 636.5,1865 654.8,1865.8 673.1,1866.7 691.4,1867.7 709.8,1867.2 728.1,1866.8 746.4,1868.5 764.7,1867.9 783.1,1867.2 801.4,1869 819.7,1869.7 838.1,1869.5 856.4,1870.3 874.7,1869.6 893,1871.6 911.4,1874.9 929.7,1874 948,1878.8 966.4,1879 984.7,1880.2 1003,1878.2 1021.3,1876.2 1039.7,1877 1058,1879 1076.3,1878.5 1094.7,1881.3 1113,1887.3 1131.3,1884.5 1149.6,1881.9 1168,1883.5 1186.3,1881.1 1204.6,1886.3 1222.9,1883 1241.3,1884.6 1259.6,1885.4 1277.9,1886 1296.3,1889 1314.6,1896.4 1332.9,1892.4 1351.2,1891.4 1369.6,1890.1 1387.9,1889.2 1406.2,1892.5 1424.6,1893.5 1442.9,1890.3 1461.2,1896.1 1479.5,1894.5 1497.9,1892.8 1516.2,1896.8 1534.5,1900.6 1552.9,1896.2 1571.2,1900.2 1589.5,1902.2 1607.8,1898.2 1626.2,1900.2 1644.5,1897.6 1662.8,1897.2 1681.1,1960.9 1699.5,1931 1717.8,1919.1 1736.1,1909.4 1754.5,1907.3 1772.8,1906.2 1791.1,1906.2 1809.4,1903.1 1827.8,1907 1846.1,1911.7 1864.4,1909.4 1882.8,1906.1 1901.1,1908.1 1919.4,1910.2 1937.7,1913.5 1956.1,1912.2 1974.4,1912.9 1992.7,1914.8 2011.1,1913.6 2029.4,1914.1 2047.7,1914.4 2066,1917.3 2084.4,1916.2 2102.7,1921.5 2121,1920.2 2139.3,1923.6 2157.7,1925.5 2176,1926.8 2194.3,1925.9 2212.7,1926.8 2231,1928.8 2249.3,1928.3 2267.6,1932 2286,1931.9 2304.3,1933.4 2322.6,1937.8 2341,1940 2359.3,1944.1 2377.6,1946 2395.9,1948.1 2414.3,1945.9 2432.6,1949 2450.9,1948.7 2469.3,1956.8 2487.6,1962.4 2505.9,1961.8 2524.2,1960.9 2542.6,1962.5 2560.9,1967 2579.2,1969.9 2597.5,1973.7 2615.9,1970.6 2634.2,1974.1 2652.5,1976.5 2670.9,1981.6 2689.2,1981.3 2707.5,1988.3 2725.8,1991 2744.2,1992.1 2762.5,1994.1 2780.8,1995.5 2799.2,1996.4 2817.5,2001.9 2835.8,2007.6 2854.1,2010.7 2872.5,2012.4 2890.8,2020.6 2909.1,2026.3 2927.5,2032 2945.8,2029.5 2964.1,2027.6 2982.4,2038.7 3000.8,2044 3019.1,2044 3037.4,2046.5"/>
<polyline class="ln" stroke="#619CFF" points="306.5,2237.4 324.9,2228.8 343.2,2055.7 361.5,2024.6 379.9,2014.3 398.2,1856.1 416.5,1857.3 434.8,1852.8 453.2,1855.7 471.5,1849.1 489.8,1849.8 508.2,1852.3 526.5,1851.9 544.8,1852.8 563.1,1853.1 581.5,1854.2 599.8,1853.6 618.1,1853.8 636.5,1854.2 654.8,1855 673.1,1855.8 691.4,1856.8 709.8,1856.3 728.1,1855.9 746.4,1857.5 764.7,1856.9 783.1,1856.1 801.4,1857.9 819.7,1858.5 838.1,1858.3 856.4,1859.2 874.7,1858.4 893,1860.4 911.4,1863.6 929.7,1862.7 948,1867.4 966.4,1867.6 984.7,1868.8 1003,1866.8 1021.3,1864.8 1039.7,1865.6 1058,1867.6 1076.3,1867 1094.7,1869.8 1113,1875.8 1131.3,1873 1149.6,1870.4 1168,1872 1186.3,1869.6 1204.6,1874.8 1222.9,1871.4 1241.3,1873 1259.6,1873.8 1277.9,1874.4 1296.3,1877.4 1314.6,1884.8 1332.9,1880.8 1351.2,1879.8 1369.6,1878.4 1387.9,1877.5 1406.2,1880.8 1424.6,1881.8 1442.9,1878.6 1461.2,1884.4 1479.5,1882.8 1497.9,1881 1516.2,1885 1534.5,1888.8 1552.9,1884.4 1571.2,1888.4 1589.5,1890.4 1607.8,1886.4 1626.2,1888.4 1644.5,1885.8 1662.8,1885.4 1681.1,1945.8 1699.5,1917.6 1717.8,1907.2 1736.1,1897.6 1754.5,1895.6 1772.8,1894.6 1791.1,1894.6 1809.4,1891.5 1827.8,1895.5 1846.1,1900.3 1864.4,1898.1 1882.8,1894.9 1901.1,1896.9 1919.4,1899.1 1937.7,1902.5 1956.1,1901.3 1974.4,1902.1 1992.7,1904.1 2011.1,1902.9 2029.4,1903.4 2047.7,1903.8 2066,1906.8 2084.4,1905.8 2102.7,1911.2 2121,1910 2139.3,1913.4 2157.7,1915.4 2176,1916.8 2194.3,1916 2212.7,1916.9 2231,1918.8 2249.3,1918.4 2267.6,1922.1 2286,1922.1 2304.3,1923.5 2322.6,1928 2341,1930.1 2359.3,1934.3 2377.6,1936.2 2395.9,1938.3 2414.3,1936.1 2432.6,1939.2 2450.9,1939 2469.3,1947.1 2487.6,1952.6 2505.9,1952.1 2524.2,1951.3 2542.6,1953 2560.9,1957.5 2579.2,1960.4 2597.5,1964.3 2615.9,1961.2 2634.2,1964.7 2652.5,1967.2 2670.9,1972.3 2689.2,1972 2707.5,1979.1 2725.8,1981.6 2744.2,1982.5 2762.5,1984.3 2780.8,1985.5 2799.2,1986.2 2817.5,1991.5 2835.8,1997 2854.1,1999.9 2872.5,2001.4 2890.8,2009.5 2909.1,2014.9 2927.5,2020.4 2945.8,2017.7 2964.1,2015.6 2982.4,2026.5 3000.8,2031.6 3019.1,2031.5 3037.4,2033.8"/>
<polyline class="ln" stroke="#C77CFF" points="306.5,2241.6 324.9,2233 343.2,2057.1 361.5,2026.3 379.9,2015.7 398.2,1861.9 416.5,1863.3 434.8,1858.3 453.2,1859.8 471.5,1852.8 489.8,1853.5 508.2,1855.9 526.5,1855.5 544.8,1856.4 563.1,1856.6 581.5,1857.6 599.8,1857.1 618.1,1857.3 636.5,1857.7 654.8,1858.5 673.1,1859.3 691.4,1860.3 709.8,1859.7 728.1,1859.3 746.4,1861 764.7,1860.4 783.1,1859.6 801.4,1861.4 819.7,1862 838.1,1861.8 856.4,1862.6 874.7,1861.8 893,1863.8 911.4,1867.1 929.7,1866.2 948,1870.9 966.4,1871.1 984.7,1872.3 1003,1870.3 1021.3,1868.3 1039.7,1869.1 1058,1871.1 1076.3,1870.5 1094.7,1873.3 1113,1879.3 1131.3,1876.5 1149.6,1873.9 1168,1875.5 1186.3,1873.1 1204.6,1878.3 1222.9,1874.9 1241.3,1876.5 1259.6,1877.3 1277.9,1877.9 1296.3,1880.9 1314.6,1888.3 1332.9,1884.3 1351.2,1883.3 1369.6,1881.9 1387.9,1881 1406.2,1884.3 1424.6,1885.3 1442.9,1882.1 1461.2,1887.9 1479.5,1886.3 1497.9,1884.5 1516.2,1888.5 1534.5,1892.3 1552.9,1887.9 1571.2,1891.9 1589.5,1893.9 1607.8,1889.9 1626.2,1891.9 1644.5,1889.3 1662.8,1888.9 1681.1,1950.2 1699.5,1921.6 1717.8,1910.9 1736.1,1901.3 1754.5,1899.3 1772.8,1898.4 1791.1,1898.4 1809.4,1895.4 1827.8,1899.5 1846.1,1904.3 1864.4,1902.1 1882.8,1898.9 1901.1,1901 1919.4,1903.2 1937.7,1906.6 1956.1,1905.4 1974.4,1906.3 1992.7,1908.3 2011.1,1907.1 2029.4,1907.8 2047.7,1908.2 2066,1911.2 2084.4,1910.2 2102.7,1915.7 2121,1914.5 2139.3,1917.9 2157.7,1919.9 2176,1921.4 2194.3,1920.6 2212.7,1921.6 2231,1923.6 2249.3,1923.3 2267.6,1927.1 2286,1927.1 2304.3,1928.7 2322.6,1933.2 2341,1935.4 2359.3,1939.7 2377.6,1941.7 2395.9,1943.9 2414.3,1941.7 2432.6,1945 2450.9,1944.8 2469.3,1953 2487.6,1958.7 2505.9,1958.3 2524.2,1957.6 2542.6,1959.5 2560.9,1964.2 2579.2,1967.2 2597.5,1971.3 2615.9,1968.4 2634.2,1972.1 2652.5,1974.7 2670.9,1980 2689.2,1979.9 2707.5,1987.2 2725.8,1989.8 2744.2,1990.9 2762.5,1992.9 2780.8,1994.4 2799.2,1995.2 2817.5,2000.7 2835.8,2006.4 2854.1,2009.5 2872.5,2011.2 2890.8,2019.5 2909.1,2025.2 2927.5,2030.8 2945.8,2028.3 2964.1,2026.4 2982.4,2037.5 3000.8,2042.8 3019.1,2042.9 3037.4,2045.4"/>
<polyline class="ln" stroke="#F564E3" points="306.5,2242 324.9,2233.4 343.2,2058.5 361.5,2027.9 379.9,2017.1 398.2,1862.8 416.5,1864.7 434.8,1859.7 453.2,1861.5 471.5,1854.4 489.8,1855.1 508.2,1857.5 526.5,1857.1 544.8,1857.9 563.1,1858.1 581.5,1859.1 599.8,1858.5 618.1,1858.7 636.5,1859.1 654.8,1859.9 673.1,1860.7 691.4,1861.7 709.8,1861.1 728.1,1860.7 746.4,1862.3 764.7,1861.7 783.1,1860.9 801.4,1862.7 819.7,1863.3 838.1,1863.1 856.4,1863.8 874.7,1863 893,1865 911.4,1868.2 929.7,1867.3 948,1872 966.4,1872.2 984.7,1873.4 1003,1871.4 1021.3,1869.4 1039.7,1870.2 1058,1872.2 1076.3,1871.6 1094.7,1874.4 1113,1880.4 1131.3,1877.6 1149.6,1874.9 1168,1876.5 1186.3,1874.1 1204.6,1879.3 1222.9,1875.9 1241.3,1877.5 1259.6,1878.3 1277.9,1878.9 1296.3,1881.9 1314.6,1889.3 1332.9,1885.3 1351.2,1884.3 1369.6,1882.9 1387.9,1882 1406.2,1885.3 1424.6,1886.2 1442.9,1883 1461.2,1888.8 1479.5,1887.2 1497.9,1885.4 1516.2,1889.4 1534.5,1893.2 1552.9,1888.8 1571.2,1892.8 1589.5,1894.8 1607.8,1890.8 1626.2,1892.8 1644.5,1890.2 1662.8,1889.8 1681.1,1952.5 1699.5,1923.1 1717.8,1911.6 1736.1,1902 1754.5,1900 1772.8,1899.1 1791.1,1899.1 1809.4,1896.1 1827.8,1900.2 1846.1,1905 1864.4,1902.8 1882.8,1899.7 1901.1,1901.7 1919.4,1903.9 1937.7,1907.4 1956.1,1906.2 1974.4,1907 1992.7,1909 2011.1,1907.9 2029.4,1908.5 2047.7,1908.9 2066,1912 2084.4,1911 2102.7,1916.4 2121,1915.3 2139.3,1918.7 2157.7,1920.7 2176,1922.1 2194.3,1921.4 2212.7,1922.3 2231,1924.2 2249.3,1923.6 2267.6,1927.3 2286,1927.2 2304.3,1928.6 2322.6,1933 2341,1935.1 2359.3,1939.2 2377.6,1941.1 2395.9,1943.2 2414.3,1940.9 2432.6,1944 2450.9,1943.7 2469.3,1951.8 2487.6,1957.3 2505.9,1956.8 2524.2,1955.9 2542.6,1957.6 2560.9,1962.1 2579.2,1965 2597.5,1968.9 2615.9,1965.8 2634.2,1969.3 2652.5,1971.8 2670.9,1976.9 2689.2,1976.6 2707.5,1983.7 2725.8,1986.4 2744.2,1987.4 2762.5,1989.4 2780.8,1990.8 2799.2,1991.6 2817.5,1997.1 2835.8,2002.7 2854.1,2005.7 2872.5,2007.4 2890.8,2015.6 2909.1,2021.3 2927.5,2026.9 2945.8,2024.4 2964.1,2022.4 2982.4,2033.5 3000.8,2038.7 3019.1,2038.8 3037.4,2041.2"/>
<polyline class="ln" stroke="#FF64B0" points="306.5,2239.7 324.9,2231.1 343.2,2056.6 361.5,2025.8 379.9,2015.2 398.2,1859.6 416.5,1860.5 434.8,1855.1 453.2,1856.6 471.5,1849.6 489.8,1850.2 508.2,1852.6 526.5,1852.2 544.8,1853 563.1,1853.2 581.5,1854.2 599.8,1853.6 618.1,1853.8 636.5,1854.2 654.8,1855 673.1,1855.8 691.4,1856.8 709.8,1856.2 728.1,1855.8 746.4,1857.4 764.7,1856.8 783.1,1856 801.4,1857.8 819.7,1858.4 838.1,1858.2 856.4,1859 874.7,1858.2 893,1860.2 911.4,1863.4 929.7,1862.5 948,1867.2 966.4,1867.4 984.7,1868.6 1003,1866.6 1021.3,1864.6 1039.7,1865.4 1058,1867.4 1076.3,1866.8 1094.7,1869.6 1113,1875.6 1131.3,1872.8 1149.6,1870.2 1168,1871.8 1186.3,1869.4 1204.6,1874.6 1222.9,1871.2 1241.3,1872.8 1259.6,1873.6 1277.9,1874.2 1296.3,1877.2 1314.6,1884.6 1332.9,1880.6 1351.2,1879.6 1369.6,1878.2 1387.9,1877.3 1406.2,1880.6 1424.6,1881.6 1442.9,1878.4 1461.2,1884.2 1479.5,1882.6 1497.9,1880.8 1516.2,1884.8 1534.5,1888.6 1552.9,1884.2 1571.2,1888.2 1589.5,1890.2 1607.8,1886.2 1626.2,1888.2 1644.5,1885.6 1662.8,1885.2 1681.1,1945.6 1699.5,1917.3 1717.8,1906.9 1736.1,1897.4 1754.5,1895.4 1772.8,1894.4 1791.1,1894.4 1809.4,1891.4 1827.8,1895.4 1846.1,1900.2 1864.4,1898 1882.8,1894.8 1901.1,1896.8 1919.4,1899 1937.7,1902.4 1956.1,1901.2 1974.4,1902 1992.7,1904 2011.1,1902.8 2029.4,1903.4 2047.7,1903.8 2066,1906.8 2084.4,1905.8 2102.7,1911.2 2121,1910 2139.3,1913.4 2157.7,1915.4 2176,1916.8 2194.3,1916 2212.7,1917 2231,1919 2249.3,1918.6 2267.6,1922.4 2286,1922.4 2304.3,1923.9 2322.6,1928.4 2341,1930.6 2359.3,1934.8 2377.6,1936.8 2395.9,1939 2414.3,1936.8 2432.6,1940 2450.9,1939.8 2469.3,1948 2487.6,1953.6 2505.9,1953.2 2524.2,1952.4 2542.6,1954.2 2560.9,1958.8 2579.2,1961.8 2597.5,1965.7 2615.9,1962.7 2634.2,1966.3 2652.5,1968.9 2670.9,1974.1 2689.2,1973.9 2707.5,1981.1 2725.8,1983.7 2744.2,1984.7 2762.5,1986.7 2780.8,1988 2799.2,1988.8 2817.5,1994.2 2835.8,1999.8 2854.1,2002.8 2872.5,2004.4 2890.8,2012.6 2909.1,2018.2 2927.5,2023.7 2945.8,2021.2 2964.1,2019.2 2982.4,2030.1 3000.8,2035.3 3019.1,2035.3 3037.4,2037.7"/>
<text class="st" text-anchor="middle" x="1672" y="1771.69">Read_2_Before_filtering</text>
<text class="at" text-anchor="end" x="149.4" y="2189.24">32.5</text>
<text class="at" text-anchor="end" x="149.4" y="2073.49">35.0</text>
<text class="at" text-anchor="end" x="149.4" y="1957.74">37.5</text>
<text class="at" text-anchor="end" x="149.4" y="1841.99">40.0</text>
</g>
<text class="at" text-anchor="middle" x="288.22" y="2314.30">0</text>
<text class="at" text-anchor="middle" x="1204.62" y="2314.30">50</text>
<text class="at" text-anchor="middle" x="2121.02" y="2314.30">100</text>
<text class="at" text-anchor="middle" x="3037.42" y="2314.30">150</text>
<text class="tt" text-anchor="middle" x="1672" y="2366.00">Position in Read [bp]</text>
<text class="tt" text-anchor="middle" transform="translate(57.00 1179.90) rotate(-90)">Seuqence Quality</text>
<path class="ln" stroke="#F8766D" d="M3250 960.26H3307.4"/>
<text class="lt" x="3337" y="974.76">Sample001</text>
<path class="ln" stroke="#DE8C00" d="M3250 1000.26H3307.4"/>
<text class="lt" x="3337" y="1014.76">Sample002</text>
<path class="ln" stroke="#B79F00" d="M3250 1040.26H3307.4"/>
<text class="lt" x="3337" y="1054.76">Sample003</text>
<path class="ln" stroke="#7CAE00" d="M3250 1080.26H3307.4"/>
<text class="lt" x="3337" y="1094.76">Sample004</text>
<path class="ln" stroke="#00BA38" d="M3250 1120.26H3307.4"/>
<text class="lt" x="3337" y="1134.76">Sample005</text>
<path class="ln" stroke="#00C08B" d="M3250 1160.26H3307.4"/>
<text class="lt" x="3337" y="1174.76">Sample006</text>
<path class="ln" stroke="#00BFC4" d="M3250 1200.26H3307.4"/>
<text class="lt" x="3337" y="1214.76">Sample007</text>
<path class="ln" stroke="#00B4F0" d="M3250 1240.26H3307.4"/>
<text class="lt" x="3337" y="1254.76">Sample008</text>
<path class="ln" stroke="#619CFF" d="M3250 1280.26H3307.4"/>
<text class="lt" x="3337" y="1294.76">Sample009</text>
<path class="ln" stroke="#C77CFF" d="M3250 1320.26H3307.4"/>
<text class="lt" x="3337" y="1334.76">Sample010</text>
<path class="ln" stroke="#F564E3" d="M3250 1360.26H3307.4"/>
<text class="lt" x="3337" y="1374.76">Sample011</text>
<path class="ln" stroke="#FF64B0" d="M3250 1400.26H3307.4"/>
<text class="lt" x="3337" y="1414.76">Sample012</text>
</svg></body></html>
